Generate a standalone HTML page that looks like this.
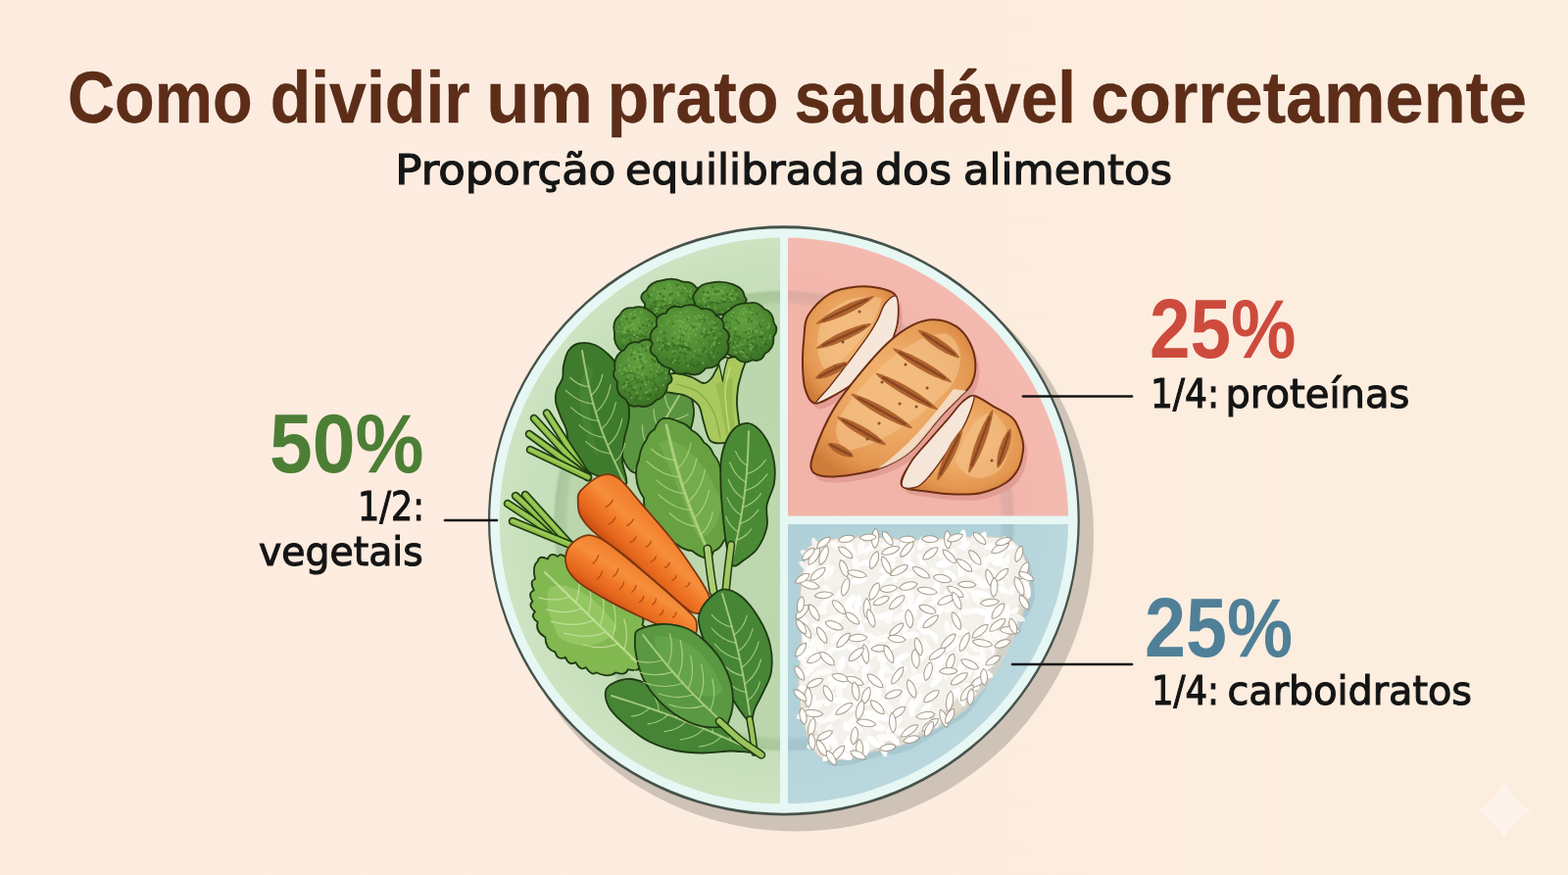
<!DOCTYPE html>
<html lang="pt">
<head>
<meta charset="utf-8">
<title>Como dividir um prato saudável corretamente</title>
<style>
html,body{margin:0;padding:0;background:#FDECDF;}
body{width:1600px;height:893px;overflow:hidden;position:relative;}
svg{position:absolute;left:0;top:0;display:block;}
.t{font-family:"DejaVu Sans","Liberation Sans",sans-serif;}
.b{font-family:"Liberation Sans","DejaVu Sans",sans-serif;font-weight:bold;}
</style>
</head>
<body>
<svg width="1600" height="893" viewBox="0 0 1600 893">
<defs>
  <clipPath id="plateClip"><ellipse cx="799.9" cy="531.45" rx="290.2" ry="288.9"/></clipPath>
  <radialGradient id="gGreen" cx="800" cy="531.5" r="291" gradientUnits="userSpaceOnUse"><stop offset="0" stop-color="#BDD8AF"/><stop offset="0.755" stop-color="#BBD6AD"/><stop offset="0.77" stop-color="#ADCB9F"/><stop offset="0.8" stop-color="#A9C79B"/><stop offset="0.812" stop-color="#C6DEB9"/><stop offset="1" stop-color="#CDE3C2"/></radialGradient>
  <radialGradient id="gPink" cx="800" cy="531.5" r="291" gradientUnits="userSpaceOnUse"><stop offset="0" stop-color="#F2B3A8"/><stop offset="0.755" stop-color="#F2B4A9"/><stop offset="0.77" stop-color="#E2ADA4"/><stop offset="0.8" stop-color="#DDABA2"/><stop offset="0.812" stop-color="#F3B6AC"/><stop offset="1" stop-color="#F4BAB0"/></radialGradient>
  <radialGradient id="gBlue" cx="800" cy="531.5" r="291" gradientUnits="userSpaceOnUse"><stop offset="0" stop-color="#B1D1D9"/><stop offset="0.755" stop-color="#B2D2DA"/><stop offset="0.77" stop-color="#A7C6CE"/><stop offset="0.8" stop-color="#A4C3CB"/><stop offset="0.812" stop-color="#B5D4DB"/><stop offset="1" stop-color="#BAD8DE"/></radialGradient>
</defs>
<linearGradient id="bgG" x1="0" y1="0" x2="1600" y2="0" gradientUnits="userSpaceOnUse"><stop offset="0" stop-color="#FDEBDF"/><stop offset="0.5" stop-color="#FCECDF"/><stop offset="1" stop-color="#FCEEDF"/></linearGradient>
<rect width="1600" height="893" fill="url(#bgG)"/>
<text id="t1" class="b" x="68.94" y="124.7" font-size="74" fill="#5E2D18" stroke="#3A180B" stroke-width="0.3" textLength="188.63" lengthAdjust="spacingAndGlyphs">Como</text>
<text id="t2" class="b" x="275.68" y="124.7" font-size="74" fill="#5E2D18" stroke="#3A180B" stroke-width="0.3" textLength="204.08" lengthAdjust="spacingAndGlyphs">dividir</text>
<text id="t3" class="b" x="496.15" y="124.7" font-size="74" fill="#5E2D18" stroke="#3A180B" stroke-width="0.3" textLength="108.71" lengthAdjust="spacingAndGlyphs">um</text>
<text id="t4" class="b" x="619.62" y="124.7" font-size="74" fill="#5E2D18" stroke="#3A180B" stroke-width="0.3" textLength="175.00" lengthAdjust="spacingAndGlyphs">prato</text>
<text id="t5" class="b" x="810.47" y="124.7" font-size="74" fill="#5E2D18" stroke="#3A180B" stroke-width="0.3" textLength="287.42" lengthAdjust="spacingAndGlyphs">saudável</text>
<text id="t6" class="b" x="1112.97" y="124.7" font-size="74" fill="#5E2D18" stroke="#3A180B" stroke-width="0.3" textLength="445.03" lengthAdjust="spacingAndGlyphs">corretamente</text>
<text id="s1" class="t" x="403.39" y="188.4" font-size="42.2" fill="#161616" stroke="#161616" stroke-width="1.2" textLength="224.91" lengthAdjust="spacingAndGlyphs">Proporção</text>
<text id="s2" class="t" x="637.96" y="188.4" font-size="42.2" fill="#161616" stroke="#161616" stroke-width="1.2" textLength="244.60" lengthAdjust="spacingAndGlyphs">equilibrada</text>
<text id="s3" class="t" x="892.92" y="188.4" font-size="42.2" fill="#161616" stroke="#161616" stroke-width="1.2" textLength="78.19" lengthAdjust="spacingAndGlyphs">dos</text>
<text id="s4" class="t" x="982.98" y="188.4" font-size="42.2" fill="#161616" stroke="#161616" stroke-width="1.2" textLength="213.09" lengthAdjust="spacingAndGlyphs">alimentos</text>
<ellipse cx="812" cy="546" rx="304" ry="302.5" fill="#CEC3B6"/>
<ellipse cx="799.9" cy="531.45" rx="301.9" ry="301.1" fill="#46524B"/>
<ellipse cx="799.9" cy="531.45" rx="299.7" ry="298.3" fill="#E6F7F4"/>
<g clip-path="url(#plateClip)">
<rect x="480" y="220" width="316" height="640" fill="url(#gGreen)"/>
<rect x="804" y="220" width="320" height="306.5" fill="url(#gPink)"/>
<rect x="804" y="535" width="320" height="330" fill="url(#gBlue)"/>
</g>
<defs><radialGradient id="gFlo" cx="0.42" cy="0.32" r="0.7"><stop offset="0" stop-color="#62A03E"/><stop offset="0.65" stop-color="#4A8530"/><stop offset="1" stop-color="#386D22"/></radialGradient></defs>
<g id="veg">
<path d="M636,420C638.8,412.7 642,403.7 648,398C654,392.3 663.7,387 672,386C680.3,385 692,386.7 698,392C704,397.3 707.3,409 708,418C708.7,427 705,438 702,446C699,454 695.7,460.3 690,466C684.3,471.7 675.3,477.3 668,480C660.7,482.7 651.5,484.3 646,482C640.5,479.7 637.5,472.7 635,466C632.5,459.3 630.8,449.7 631,442C631.2,434.3 633.2,427.3 636,420Z" fill="#5A9440" stroke="#1E3A12" stroke-width="1.8" stroke-linejoin="round" />
<path d="M648,480C649.1,478.2 652.3,472.7 654.5,469C656.7,465.3 658.8,461.7 661,458C663.2,454.3 665.3,450.7 667.5,447C669.7,443.3 671.8,439.7 674,436C676.2,432.3 678.3,428.7 680.5,425C682.7,421.3 684.8,417.7 687,414C689.2,410.3 691.3,406.7 693.5,403C695.7,399.3 698.9,393.8 700,392" fill="none" stroke="#B7D68C" stroke-width="2.0" stroke-linecap="round" opacity="0.8"/>
<path d="M656.3,465.9 Q665.9,467.4 675.9,461.3 M661.9,456.5 Q654.9,447.5 655.5,433.8 M667.4,447.1 Q677.2,448.6 687.4,442.4 M673,437.8 Q666.8,429.7 667.3,417.5 M678.5,428.4 Q690.1,430.1 702.2,422.8 M684.1,419 Q677.9,410.9 678.4,398.8 " fill="none" stroke="#B7D68C" stroke-width="1.2" stroke-linecap="round" opacity="0.8"/>
<path d="M590.4,350.5C594.9,349.5 601.9,350.1 607,352C612.1,353.9 616.8,358 621,362C625.2,366 629,370 632,376C635,382 637.3,389.8 639,398C640.7,406.2 642.3,416.7 642,425C641.7,433.3 638.2,440.5 637,448C635.8,455.5 634.7,462.3 635,470C635.3,477.7 641.5,490.8 639,494C636.5,497.2 626.5,491.2 620,489C613.5,486.8 605.7,484.8 600,481C594.3,477.2 589.3,470.7 586,466C582.7,461.3 581.3,457.5 580,453C578.7,448.5 579.3,443.7 578,439C576.7,434.3 573.8,429.8 572,425C570.2,420.2 567.7,414.5 567,410C566.3,405.5 566.8,402 568,398C569.2,394 572.8,390.2 574,386C575.2,381.8 574,377.7 575,373C576,368.3 577.4,361.8 580,358C582.6,354.2 585.9,351.5 590.4,350.5Z" fill="#3F7B2C" stroke="#1E3A12" stroke-width="1.8" stroke-linejoin="round" />
<path d="M600,372 C585,395 590,440 612,470 C600,430 598,400 606,378 Z" fill="#4B8A36" opacity="0.6"/>
<path d="M637,492C635.7,489.3 631.9,481.3 629.4,476C627,470.6 624.5,465.2 622.2,459.8C619.9,454.4 617.7,448.9 615.6,443.4C613.5,437.9 611.6,432.4 609.8,426.8C608,421.2 606.4,415.6 604.8,409.9C603.3,404.3 602,398.5 600.7,392.8C599.4,387 598.3,381.3 597.2,375.5C596.1,369.7 594.5,360.9 594,358" fill="none" stroke="#B7D68C" stroke-width="2.0" stroke-linecap="round" opacity="0.8"/>
<path d="M627.4,471.4 Q635.4,464.7 637.7,452.3 M623.7,463.2 Q609.6,462.1 597.5,450.4 M620.1,454.8 Q631.6,445.3 634.8,427.7 M616.8,446.5 Q603,445.5 591.1,433.9 M613.6,438 Q625.2,428.3 628.4,410.5 M610.7,429.5 Q595.7,428.4 582.8,415.9 M607.9,420.9 Q619.8,411 623.1,392.8 M605.5,412.3 Q590.3,411.1 577.2,398.4 M603.2,403.5 Q612.3,396 614.8,382.1 M601.1,394.7 Q590.7,394 581.7,385.2 " fill="none" stroke="#B7D68C" stroke-width="1.2" stroke-linecap="round" opacity="0.8"/>
<path d="M671,392C670.7,389.7 669.8,386.8 673,385C676.2,383.2 684.5,381 690,381C695.5,381 701.3,383.3 706,385C710.7,386.7 714.7,390.8 718,391C721.3,391.2 723.3,389.2 726,386C728.7,382.8 731.3,375.3 734,372C736.7,368.7 739,367.3 742,366C745,364.7 748.8,364 752,364C755.2,364 760.2,363.3 761,366C761.8,368.7 758.3,375 757,380C755.7,385 753.8,390.7 753,396C752.2,401.3 751.8,406.2 752,412C752.2,417.8 753.2,424.8 754,431C754.8,437.2 759.2,445.5 757,449C754.8,452.5 746.3,451.8 741,452C735.7,452.2 728.8,453.5 725,450C721.2,446.5 720,437 718,431C716,425 716,418.5 713,414C710,409.5 704.7,406.2 700,404C695.3,401.8 689.2,401.8 685,401C680.8,400.2 677.3,400.5 675,399C672.7,397.5 671.3,394.3 671,392Z" fill="#A9C95F" stroke="#1E3A12" stroke-width="1.8" stroke-linejoin="round" />
<path d="M730,392 C735,410 738,430 742,448 L752,448 C748,425 746,405 748,385 Z" fill="#93B84C" opacity="0.7"/>
<path d="M690,392C693.7,393.3 705.7,395.3 712,400C718.3,404.7 724.2,412.2 728,420C731.8,427.8 733.8,442.5 735,447" fill="none" stroke="#7FA23C" stroke-width="1.3" stroke-linecap="round" opacity="0.8"/>
<path d="M745,375C744.2,379.2 740.2,389.2 740,400C739.8,410.8 743.3,433.3 744,440" fill="none" stroke="#C9E08B" stroke-width="1.5" stroke-linecap="round" opacity="0.8"/>
<path d="M731.5,364 L743,365 C740,373 738.5,380 737.5,389 C735.5,380 734,372 731.5,364 Z" fill="#BCD6AE" stroke="#1E3A12" stroke-width="1.3" stroke-linejoin="round"/>
<path d="M703.6,323.1Q695.2,328.2 684.3,326.3Q675,328 668.4,323.3Q656.5,319.4 658.1,310Q649.9,302.6 659.5,296.6Q663.1,287.9 675.6,286.2Q686.7,282.5 696.8,287.6Q706.6,287 709.9,292.8Q717.3,298.6 716.4,306.3Q715.8,316.8 703.6,323.1Z" fill="url(#gFlo)" stroke="#1E3A12" stroke-width="1.8" stroke-linejoin="round"/>
<path d="M689.3,323.5h0.1M683.5,300.9h0.1M668.6,309.1h0.1M694,321.4h0.1M686,308.5h0.1M664.9,315.4h0.1M704.5,311.5h0.1M677,302.7h0.1M702.8,301.8h0.1M695.8,299.4h0.1M688.9,312.6h0.1M663.8,305.3h0.1M685.7,308h0.1M683.8,317.7h0.1M698,291.3h0.1M679.7,312.2h0.1M687.5,317.5h0.1M668.2,312.8h0.1M691.9,309h0.1M688.7,306.9h0.1M670.4,320.2h0.1M705.4,305.2h0.1M702.6,303.7h0.1M676.7,307.9h0.1M673.3,312.7h0.1M691.2,317.4h0.1M701.2,307.5h0.1M663.7,305.8h0.1M697.8,305h0.1M661,300.8h0.1M678.8,321.9h0.1M680.3,315h0.1M674.6,315h0.1M662.1,303h0.1M705.9,312.5h0.1M691.2,290.9h0.1M706.4,296.3h0.1M673.7,300h0.1M676.3,314h0.1M702.3,316.1h0.1M692.7,313.7h0.1M664.7,312.7h0.1M688,315.6h0.1M685.6,300h0.1M695.6,313.6h0.1M696.7,319.8h0.1M663.9,314.9h0.1M703.7,304.7h0.1M696.1,295.1h0.1M678,294.7h0.1" stroke="#2F611B" stroke-width="2.6" stroke-linecap="round" opacity="0.55"/>
<path d="M697.5,306h0.1M695.6,312h0.1M677.5,297.1h0.1M664.6,306.2h0.1M704.3,301.4h0.1M692.5,301.4h0.1M703.3,314.6h0.1M708.4,300.9h0.1M678.7,305.7h0.1M677.2,310.5h0.1M697.2,304.7h0.1M684.7,308h0.1M670.1,304.6h0.1M663.7,305.5h0.1M670.7,314.9h0.1M691.7,298.9h0.1M710.6,309.7h0.1M671.1,298.2h0.1M690.7,311.2h0.1M682.2,290.9h0.1M682.2,291h0.1M706.9,315.8h0.1M688,319h0.1M684.3,304.8h0.1M704.5,297.6h0.1M708,300h0.1M667.6,293.5h0.1M668.1,318.9h0.1M697.4,293.5h0.1M682.4,289.8h0.1M677.8,309h0.1M683.5,315.6h0.1M671.9,305.7h0.1M672.3,311.7h0.1M693.4,293.2h0.1M670.1,317.8h0.1M669.5,315.4h0.1M710.6,305.2h0.1M698.9,316.7h0.1M700.7,312.4h0.1M666.7,295.5h0.1M683.4,309.2h0.1M698.9,294.7h0.1M696.7,291.7h0.1M664.6,300.7h0.1M671.7,302.2h0.1M684,293.6h0.1M709.5,299h0.1M700.8,297h0.1M705.5,295.5h0.1M695.3,295.1h0.1" stroke="#7DB452" stroke-width="2.2" stroke-linecap="round" opacity="0.65"/>
<path d="M676.6,313.1 Q684,309 691.4,313.1" fill="none" stroke="#2F611B" stroke-width="1.2" opacity="0.5"/>
<path d="M665.4,308.9 Q672.8,304.8 680.2,308.9" fill="none" stroke="#2F611B" stroke-width="1.2" opacity="0.5"/>
<path d="M684.4,312.3 Q691.8,308.2 699.2,312.3" fill="none" stroke="#2F611B" stroke-width="1.2" opacity="0.5"/>
<path d="M759.8,302.7Q764.3,307.3 758.2,311Q755.7,318.4 743.7,319.6Q730.7,323.9 718.9,318.4Q709.2,315.2 708.6,308.3Q704.9,301.7 711.3,296Q714.8,289.9 724.8,288.7Q736.9,286 747.8,290.2Q759.1,294.4 759.8,302.7Z" fill="url(#gFlo)" stroke="#1E3A12" stroke-width="1.8" stroke-linejoin="round"/>
<path d="M746.2,317.1h0.1M745,305h0.1M730.7,297.6h0.1M722.8,304.5h0.1M742.3,305.6h0.1M740.1,307.9h0.1M720.6,311h0.1M746.7,302.2h0.1M726,317.2h0.1M726.1,305.8h0.1M733.1,297.2h0.1M751.3,296.3h0.1M717.9,298.3h0.1M735.7,305.7h0.1M725.4,297.8h0.1M750.8,296.5h0.1M725.2,304.4h0.1M728.7,297.5h0.1M718.6,297.6h0.1M738.7,308.3h0.1M754,305.4h0.1M726.3,310.2h0.1M752.4,304.1h0.1M732.6,310.2h0.1M727.2,292.8h0.1M742,300.4h0.1M737.4,302.4h0.1M715,311.6h0.1M722,298.6h0.1M717.9,313.3h0.1" stroke="#2F611B" stroke-width="2.6" stroke-linecap="round" opacity="0.55"/>
<path d="M736.2,304.7h0.1M747.5,296.8h0.1M736.6,318.3h0.1M737,298.4h0.1M728.2,307h0.1M722.8,313.4h0.1M724.9,297.7h0.1M749.8,304.7h0.1M751.4,300.4h0.1M730.1,314.9h0.1M713.2,307.6h0.1M744.8,300.3h0.1M753.3,311.2h0.1M718.9,314.3h0.1M717.9,305h0.1M739.3,306h0.1M719.7,300.8h0.1M719.7,296.7h0.1M726,317.2h0.1M727.2,297.5h0.1M746.9,304.3h0.1M742.6,307.2h0.1M732.8,300.3h0.1M722,301.1h0.1M732.5,294.3h0.1M745.8,300h0.1M722.1,294h0.1M718.9,299.9h0.1M726.1,304.4h0.1M724.9,306.2h0.1M736.2,296.7h0.1M739.4,305h0.1M727.5,299.8h0.1M739.1,293.1h0.1M719.1,300.7h0.1M718.4,306.7h0.1M720.2,308.9h0.1M745,303.9h0.1M746.8,306.2h0.1M742.9,315.4h0.1M718.9,308h0.1" stroke="#7DB452" stroke-width="2.2" stroke-linecap="round" opacity="0.65"/>
<path d="M723.1,310.4 Q729.6,307.1 736.1,310.4" fill="none" stroke="#2F611B" stroke-width="1.2" opacity="0.5"/>
<path d="M719.9,309.5 Q726.4,306.2 732.9,309.5" fill="none" stroke="#2F611B" stroke-width="1.2" opacity="0.5"/>
<path d="M735.8,309 Q742.3,305.7 748.8,309" fill="none" stroke="#2F611B" stroke-width="1.2" opacity="0.5"/>
<path d="M651.8,363.1Q641.9,367.7 635.1,359.4Q625.7,352.2 627,339.9Q624,328.4 632.6,321.2Q636.6,312.9 645.5,314.4Q655,310.9 663,317.3Q675.3,324.6 673.1,339.5Q676.7,348.5 669.6,353.8Q663.4,364.2 651.8,363.1Z" fill="url(#gFlo)" stroke="#1E3A12" stroke-width="1.8" stroke-linejoin="round"/>
<path d="M657.9,336.7h0.1M659.3,338.7h0.1M652.7,360.2h0.1M665.8,330.3h0.1M662.1,327.3h0.1M657.4,357.7h0.1M649.3,360.3h0.1M662.2,354.4h0.1M652.2,343.3h0.1M669.9,343.1h0.1M660.3,332.7h0.1M642,350.2h0.1M657.6,353.1h0.1M644.6,350.4h0.1M668.2,337.8h0.1M642.4,329.2h0.1M645.5,325.2h0.1M670,344.4h0.1M657.5,345.7h0.1M656.3,331.8h0.1M662,347.5h0.1M652.4,335.1h0.1M652.6,335.6h0.1M647.6,324.1h0.1M651.7,350.1h0.1M668.2,342.4h0.1M652,354.8h0.1M641.5,338h0.1M660.6,355.8h0.1M653.2,347.1h0.1M643.1,346.1h0.1M654.7,342.1h0.1M643.6,328.6h0.1M649.4,342h0.1M661.4,347.7h0.1M656.8,352.4h0.1M639.1,354.5h0.1M640.8,337.9h0.1M651.2,351h0.1M645,338.6h0.1M635.9,353.1h0.1M634.5,343.3h0.1M643.3,347.8h0.1M657.5,343.1h0.1M639.6,325.6h0.1M664.3,330.7h0.1M643.6,350.6h0.1M632.8,331.9h0.1" stroke="#2F611B" stroke-width="2.6" stroke-linecap="round" opacity="0.55"/>
<path d="M643.3,328.3h0.1M634.3,326.2h0.1M667.2,331.4h0.1M634.6,331.4h0.1M654.3,317.7h0.1M637.2,337.3h0.1M640.6,332.9h0.1M637.3,334.9h0.1M644.4,337.6h0.1M668.6,329.6h0.1M645.2,342.8h0.1M665.1,342.5h0.1M644.8,330.9h0.1M663,343.3h0.1M662.7,331.7h0.1M635.4,338.9h0.1M648,321.3h0.1M654.4,319.3h0.1M653,337.8h0.1M640.5,354.5h0.1M637.6,339.7h0.1M646.3,331.3h0.1M647.4,334.6h0.1M647,336.1h0.1M636.5,322.7h0.1M639.9,355.9h0.1M663.1,339.6h0.1M658.8,356.4h0.1M638.6,334.6h0.1M644.3,320h0.1M655.2,351.8h0.1M651.3,325.2h0.1M658.3,337.2h0.1M661,326h0.1M650.7,335.6h0.1M643.2,320.6h0.1M630.4,338.2h0.1M636.5,347.9h0.1M640.3,357.6h0.1M647.6,318.1h0.1M650.8,344.1h0.1M631.7,333.5h0.1M647.5,341.9h0.1M670.1,345.5h0.1M661.3,348.8h0.1M643.1,320.6h0.1M652.1,328.7h0.1M651.6,357h0.1M656.4,351.3h0.1" stroke="#7DB452" stroke-width="2.2" stroke-linecap="round" opacity="0.65"/>
<path d="M635.6,343.7 Q641.4,338.7 647.3,343.7" fill="none" stroke="#2F611B" stroke-width="1.2" opacity="0.5"/>
<path d="M637.3,345.2 Q643.2,340.2 649,345.2" fill="none" stroke="#2F611B" stroke-width="1.2" opacity="0.5"/>
<path d="M650.9,345.7 Q656.8,340.7 662.7,345.7" fill="none" stroke="#2F611B" stroke-width="1.2" opacity="0.5"/>
<path d="M768,367.3Q757.7,373.4 749.9,363.8Q739.4,363.7 739.7,352.5Q730.3,345.9 736.5,336.1Q733.3,323.4 743.6,317.1Q751.9,308.6 763.5,309.5Q773.2,306.7 779.4,315Q789.2,318.6 789.7,329.6Q795.2,336.4 789.3,343.8Q790.5,355.6 780.5,361Q777,370.1 768,367.3Z" fill="url(#gFlo)" stroke="#1E3A12" stroke-width="1.8" stroke-linejoin="round"/>
<path d="M758.8,357.1h0.1M742.4,352.2h0.1M752.2,343.5h0.1M744.9,350h0.1M770.6,354.2h0.1M767.8,320.9h0.1M747.3,324.2h0.1M776.6,333.5h0.1M771.3,351.5h0.1M753.2,360.9h0.1M763.8,325.3h0.1M760.8,339.2h0.1M752,343.3h0.1M769,356.3h0.1M770.5,346.2h0.1M767.7,316.2h0.1M747.9,321.6h0.1M775.9,344.3h0.1M749.3,345.6h0.1M771.3,351.5h0.1M772,357.6h0.1M749.8,342.6h0.1M758.6,353.1h0.1M762.8,354.2h0.1M764.7,314.2h0.1M763.7,327.4h0.1M750,354.8h0.1M764.4,342.2h0.1M765.8,350.8h0.1M744.4,335.3h0.1M772.7,320.3h0.1M751.4,326.8h0.1M754.8,343.8h0.1M748.3,351.1h0.1M781.3,351.8h0.1M753.5,329.7h0.1M772.5,353.5h0.1M779.8,349.8h0.1M764.6,337.6h0.1M777,355.3h0.1M766.5,353.4h0.1M763.6,351.2h0.1M768.3,351.1h0.1M745.4,329h0.1M767,328h0.1M750.1,339.3h0.1M748.1,349.7h0.1M778.4,343.1h0.1M770.9,334.5h0.1M767,361.3h0.1M762.2,353.6h0.1M774.3,330.8h0.1M758.4,360h0.1M741.1,328.8h0.1M756.6,352.9h0.1M755.1,348.5h0.1M766.1,364.4h0.1M768.3,338.9h0.1M767.7,339.4h0.1M752.2,349.8h0.1M750.4,338.7h0.1M744.7,345.8h0.1M761.9,362.8h0.1" stroke="#2F611B" stroke-width="2.6" stroke-linecap="round" opacity="0.55"/>
<path d="M749.4,334.9h0.1M776.9,339.3h0.1M756.9,327h0.1M765.9,355.5h0.1M742.1,337.2h0.1M746.4,328.7h0.1M750.5,349.2h0.1M740.1,344.5h0.1M783.3,334.9h0.1M766.5,352.3h0.1M786,342.8h0.1M769.2,346.9h0.1M784.8,333.4h0.1M747.2,322.1h0.1M751.6,360.1h0.1M747.4,323.7h0.1M755.1,358.8h0.1M772.8,330.4h0.1M778.5,326.7h0.1M748.3,319.1h0.1M784.5,330.4h0.1M765,351.6h0.1M765.1,343.3h0.1M779.9,345.6h0.1M757.5,320.5h0.1M772.5,347.4h0.1M777.7,340.3h0.1M764.5,351.3h0.1M757.1,359.2h0.1M762,364.7h0.1M759.4,363.2h0.1M749.8,354.8h0.1M761.2,347.5h0.1M757.3,317.3h0.1M770,334.3h0.1M749.9,359.4h0.1M783.6,334h0.1M769.6,328.9h0.1M757.6,352.1h0.1M766.5,357.1h0.1M765.7,318.6h0.1M761.7,318.1h0.1M767.9,316h0.1M766.6,338.4h0.1M763.6,340.5h0.1M754.4,320h0.1M767.3,320h0.1M759.9,346.9h0.1M761.1,317.6h0.1M740.9,334.4h0.1M755.6,352.6h0.1M745.3,345.9h0.1M770.9,337.6h0.1M755.6,349.5h0.1M785.6,345.4h0.1M762.2,326.5h0.1M778.9,349.5h0.1M753,325.1h0.1M767.6,354.4h0.1M740.9,339.9h0.1M772.4,338.6h0.1M758.9,319.9h0.1M765.3,336h0.1M764.1,335.3h0.1M752.5,353.2h0.1M748.8,354.3h0.1M750.8,335.2h0.1M758.7,360.2h0.1M759.4,314.6h0.1" stroke="#7DB452" stroke-width="2.2" stroke-linecap="round" opacity="0.65"/>
<path d="M760.8,348.8 Q767.6,343 774.5,348.8" fill="none" stroke="#2F611B" stroke-width="1.2" opacity="0.5"/>
<path d="M765.7,345.9 Q772.6,340.1 779.5,345.9" fill="none" stroke="#2F611B" stroke-width="1.2" opacity="0.5"/>
<path d="M750.2,348.3 Q757,342.5 763.9,348.3" fill="none" stroke="#2F611B" stroke-width="1.2" opacity="0.5"/>
<path d="M637.1,356.9Q642.1,347.4 651.7,349.5Q660.7,342.6 668.1,351.3Q676.7,352.6 679.3,362.3Q686.2,370.2 682.6,381.2Q689.3,388.4 681.3,392.5Q680.3,405.2 669.6,408.4Q661.8,417.5 651.4,414.2Q642.3,417.2 638.3,407.1Q627.9,402.8 630,389.4Q623.7,383.9 627.4,377Q625.5,362.8 637.1,356.9Z" fill="url(#gFlo)" stroke="#1E3A12" stroke-width="1.8" stroke-linejoin="round"/>
<path d="M675.5,380.9h0.1M667.8,369.3h0.1M664.3,402.8h0.1M637.6,399.5h0.1M667.6,368.2h0.1M657.5,401.1h0.1M649,408h0.1M657.1,393.6h0.1M667.1,386.3h0.1M650.1,390.4h0.1M661.1,403.8h0.1M653.8,395.7h0.1M650.7,400h0.1M666.7,395.4h0.1M656.1,353.6h0.1M648,398.6h0.1M647.8,385.8h0.1M670.9,395.3h0.1M635.7,394.1h0.1M639.7,387.4h0.1M673.5,383.4h0.1M641.6,394.6h0.1M655.7,376.2h0.1M644.2,393.9h0.1M665.1,354.8h0.1M674.9,372.8h0.1M665.6,367.2h0.1M649.1,406.9h0.1M643.1,404.3h0.1M671.5,381.7h0.1M660.2,387.6h0.1M651,390h0.1M669.2,403.1h0.1M655.7,371.8h0.1M643.4,402.9h0.1M668.8,392.9h0.1M647.8,366.2h0.1M650,377.6h0.1M664,379.1h0.1M650.7,403.7h0.1M654,368.7h0.1M641.7,391.2h0.1M636.6,379h0.1M657.4,354.9h0.1M659.2,357.8h0.1M649.5,405.5h0.1M655.1,390h0.1M651.7,359.6h0.1M653.8,397.4h0.1M655.2,352.5h0.1M652.6,365.2h0.1M660.1,390.6h0.1M676.8,377.5h0.1M671.4,398h0.1M645.3,397.4h0.1M638.9,373.9h0.1M656.4,374.6h0.1M659.4,403.4h0.1M642,400.9h0.1M651.2,382.8h0.1M635.9,393.1h0.1M671.6,399h0.1M636.8,390.7h0.1M672.1,369.7h0.1M676.3,369.1h0.1M662.2,405.2h0.1M659.4,384.8h0.1M670.2,363.6h0.1M676.7,367.3h0.1M644.7,356h0.1M652.9,364.1h0.1M663,402.4h0.1M655.2,363.6h0.1M644.4,362.1h0.1" stroke="#2F611B" stroke-width="2.6" stroke-linecap="round" opacity="0.55"/>
<path d="M644.4,405.8h0.1M675.1,368.3h0.1M654,362.1h0.1M638,375h0.1M670.4,378.9h0.1M634.5,381.2h0.1M663.6,373.1h0.1M660.5,400.2h0.1M679.9,380.7h0.1M672.9,372.9h0.1M655,372.5h0.1M661.5,389.4h0.1M649,378.7h0.1M650.3,401.1h0.1M650.8,366.4h0.1M653.1,406.5h0.1M650.4,366.4h0.1M642.3,373h0.1M637.1,376.7h0.1M657,363.8h0.1M652.7,374h0.1M632.3,377.9h0.1M646.7,359.9h0.1M639.4,390.2h0.1M675.8,377.3h0.1M636.6,378.2h0.1M650.5,363.7h0.1M646.9,375.2h0.1M668.3,366.1h0.1M659,389.5h0.1M656,364.8h0.1M652.9,356.6h0.1M663.1,398.3h0.1M661.4,407h0.1M636.4,394.3h0.1M644.3,356.7h0.1M643.8,356.9h0.1M652.7,375.2h0.1M664.7,377.6h0.1M655.1,382.2h0.1M656,362.6h0.1M656.1,381.6h0.1M669.5,372.3h0.1M657.9,369.7h0.1M641.3,374.2h0.1M651.7,380.9h0.1M644.1,356.8h0.1M666,356.7h0.1M654.7,361.7h0.1M669.2,362.9h0.1M659.8,368.6h0.1M658.1,393h0.1M648.2,395.3h0.1M679.4,385.8h0.1M660.9,355.3h0.1M671.4,367.3h0.1M657.1,355.5h0.1M638.9,393.6h0.1M639,378.5h0.1M661,354.9h0.1M633,372.9h0.1M656.1,367.4h0.1M645.6,387h0.1M658.3,400.9h0.1M643.9,378.6h0.1M640.8,366.7h0.1M635.1,395.5h0.1M651.5,360.9h0.1M650.1,400.2h0.1M659.4,392h0.1M640.8,384.3h0.1M650.4,383.5h0.1M669.6,397.3h0.1M648.1,359.6h0.1M676.7,393.2h0.1M657.2,390.1h0.1M672.2,375.3h0.1" stroke="#7DB452" stroke-width="2.2" stroke-linecap="round" opacity="0.65"/>
<path d="M635.8,383.5 Q642.8,377 649.8,383.5" fill="none" stroke="#2F611B" stroke-width="1.2" opacity="0.5"/>
<path d="M642.7,390.6 Q649.7,384.1 656.7,390.6" fill="none" stroke="#2F611B" stroke-width="1.2" opacity="0.5"/>
<path d="M654.7,390.9 Q661.7,384.4 668.7,390.9" fill="none" stroke="#2F611B" stroke-width="1.2" opacity="0.5"/>
<path d="M716.3,315.4Q727,313.6 730.5,322.2Q739.9,325.6 738.4,334.9Q747.3,340.6 742.3,348.5Q746.5,360.5 734.9,367.7Q731.7,376.3 720.3,375.6Q712.4,386.2 700.4,380.6Q690.7,384.2 685.1,376.4Q672.8,373.9 669,363.7Q660.1,359.3 666,351Q659.3,340.6 670.3,332.9Q667.2,321.2 679.5,319.6Q683.7,310.4 694.6,313.6Q706,307.9 716.3,315.4Z" fill="url(#gFlo)" stroke="#1E3A12" stroke-width="1.8" stroke-linejoin="round"/>
<path d="M731.1,352.5h0.1M680.7,352.6h0.1M696.1,353h0.1M677.9,345.8h0.1M728.4,342.5h0.1M695.7,341.7h0.1M727.3,358.9h0.1M697.4,348.7h0.1M731.2,330.4h0.1M701.2,338.1h0.1M720.2,338h0.1M719.1,343.2h0.1M707.2,366.1h0.1M728.2,340h0.1M723.9,365.2h0.1M732,347.6h0.1M724.3,348.3h0.1M702.7,357.3h0.1M698.2,334.6h0.1M700.4,370.8h0.1M676.8,350.3h0.1M711,374h0.1M714.8,326.2h0.1M730.1,331.2h0.1M686.5,345.2h0.1M685.6,350.4h0.1M687.2,352h0.1M692.5,370.8h0.1M705.3,369h0.1M707.4,333.7h0.1M716.2,340.2h0.1M724.3,366.4h0.1M704.4,332.1h0.1M682.2,354h0.1M673,348.9h0.1M723,341.4h0.1M712.4,372.5h0.1M728.8,355.1h0.1M704.6,372.2h0.1M718,357h0.1M694.7,335.2h0.1M690.5,370.1h0.1M678.3,352.3h0.1M675,356.9h0.1M734.1,349.5h0.1M720.8,359.2h0.1M722.9,362.8h0.1M707.1,371.9h0.1M699.4,355.3h0.1M728.1,348.1h0.1M711.7,369.2h0.1M683.7,368.1h0.1M699,365.2h0.1M724.3,353.6h0.1M721.1,341.3h0.1M697.9,361h0.1M685.4,367.3h0.1M717.5,358.4h0.1M701.3,356.1h0.1M718.9,356.4h0.1M680.3,354.9h0.1M733.1,350h0.1M711,362.7h0.1M693.2,365.6h0.1M726.3,336.1h0.1M686.6,330.6h0.1M726.7,367.8h0.1M733.5,351.4h0.1M714.2,363.7h0.1M716.9,350.1h0.1M676.3,340h0.1M687.9,360.8h0.1M732.2,360.3h0.1M699.7,361.5h0.1M735.5,338.2h0.1M718.4,326h0.1M678.1,354.6h0.1M725.2,336.7h0.1M680.2,356.4h0.1M690.9,367h0.1M693.8,347.3h0.1M721.4,359.9h0.1M704.5,357.2h0.1M684.1,370.2h0.1M680.3,366.7h0.1M692,370.8h0.1M681.3,357.5h0.1M718,327.6h0.1M718.9,355.5h0.1M700.7,326.1h0.1M686.3,366.9h0.1M703.8,350.4h0.1M693,364.6h0.1M708.2,373.6h0.1M678.2,339.6h0.1M734.8,345.2h0.1M695.8,354.8h0.1M692.3,356.2h0.1M693.5,345.4h0.1M703,355.4h0.1M679.3,348.2h0.1M712.5,348.3h0.1M708,334h0.1M718.4,344.5h0.1M694.4,359.9h0.1M708.5,364.5h0.1M720.1,341.9h0.1M697,342.2h0.1M714,371.6h0.1" stroke="#2F611B" stroke-width="2.6" stroke-linecap="round" opacity="0.55"/>
<path d="M676.5,352.3h0.1M684.7,354h0.1M675.4,339.4h0.1M717.6,370.7h0.1M673.8,347.3h0.1M711.6,348.9h0.1M713.4,333.3h0.1M692.8,345.4h0.1M675.3,332.5h0.1M725.9,359.5h0.1M719.3,336.8h0.1M699.4,335.4h0.1M705.1,340.3h0.1M693.7,355.9h0.1M673.6,347.5h0.1M702.1,340.9h0.1M707.6,337.7h0.1M700.3,318h0.1M718.4,335.5h0.1M670.7,347h0.1M721.1,324.3h0.1M723.5,339.5h0.1M688.2,339.9h0.1M709.2,358h0.1M694.5,319.2h0.1M708,364.3h0.1M728.3,350.3h0.1M671.2,344.8h0.1M692.7,337.6h0.1M698.1,340.4h0.1M713.7,357.4h0.1M694.5,332.9h0.1M673.1,356.2h0.1M673.8,338.7h0.1M699.6,326.1h0.1M728.4,363.8h0.1M730,344.6h0.1M710.4,330.3h0.1M709.5,323h0.1M683.4,350.8h0.1M717.4,350.4h0.1M727.7,338.3h0.1M718.1,338.5h0.1M726.5,328.7h0.1M696.2,329.6h0.1M697,339.1h0.1M695.9,335.3h0.1M693.1,327.3h0.1M700.2,352h0.1M711,335.9h0.1M729.4,329.5h0.1M723.1,329.8h0.1M680.1,330.5h0.1M681.9,327.4h0.1M728.9,351.2h0.1M694.9,327.5h0.1M720.4,359.2h0.1M730.8,334.7h0.1M701.9,338.2h0.1M699.4,356.3h0.1M734.8,340h0.1M690.7,351.6h0.1M700.5,332.2h0.1M711.3,324.8h0.1M702.1,373.1h0.1M687.3,358.7h0.1M703.1,344h0.1M709.5,341.6h0.1M703.1,332h0.1M712.5,331.1h0.1M704.2,335.3h0.1M687.5,332.7h0.1M729.6,345.1h0.1M717.2,321.8h0.1M688.5,367.8h0.1M699.4,350.2h0.1M704.4,349.5h0.1M728.5,352h0.1M725.5,353.8h0.1M693.7,322.8h0.1M713,321.9h0.1M707.8,330.5h0.1M702.9,323.8h0.1M689.2,322.7h0.1M713.3,322.1h0.1M692.4,343.9h0.1M714.7,330.6h0.1M690.6,328h0.1M691.7,350.4h0.1M686.8,370h0.1M681.6,351.2h0.1M729,348.6h0.1M702.3,346.3h0.1M728,334.8h0.1M716.3,343.8h0.1M712.5,332.4h0.1M714.7,324.4h0.1M697.8,333.8h0.1M694.3,333.6h0.1M719.1,336.2h0.1M733.8,350.2h0.1M697.5,328.7h0.1M716.7,327.4h0.1" stroke="#7DB452" stroke-width="2.2" stroke-linecap="round" opacity="0.65"/>
<path d="M686.4,357.1 Q696.1,350.5 705.7,357.1" fill="none" stroke="#2F611B" stroke-width="1.2" opacity="0.5"/>
<path d="M682,355.1 Q691.6,348.5 701.3,355.1" fill="none" stroke="#2F611B" stroke-width="1.2" opacity="0.5"/>
<path d="M683.8,356 Q693.4,349.4 703.1,356" fill="none" stroke="#2F611B" stroke-width="1.2" opacity="0.5"/>
<path d="M676.6,427Q684.6,425.9 694,431Q700,432 706.2,439.4Q712.9,442.4 718.5,451.7Q724.8,455 728.3,464Q734.3,470.4 735.7,481.3Q742.5,488.9 743.1,498.5Q748.7,508.8 748,518.2Q749.6,529.7 745.6,537.9Q744.1,547.6 738.2,552.7Q734.8,560.4 728.3,562.5Q726.2,569.3 722,570Q714.6,569.1 706,562Q697.8,561.7 690,555Q680.9,551.9 674.2,542.8Q665.8,537.7 661.9,528Q656.5,519.3 657,508.3Q650.1,498.2 649.5,488.6Q647.8,477.5 652,469Q653.4,456.9 659.4,449.2Q661.9,441 668,438.1Q671,429.6 676.6,427Z" fill="#68A142" stroke="#1E3A12" stroke-width="1.8" stroke-linejoin="round"/>
<path d="M672,452 C690,440 720,470 735,510 C738,530 725,550 712,548 C700,520 685,480 672,452 Z" fill="#7DB452" opacity="0.6"/>
<path d="M724,566C722.8,563.3 719.3,555.3 717,550C714.8,544.6 712.5,539.3 710.3,533.9C708.1,528.5 706,523.1 704,517.7C702,512.2 700,506.8 698.2,501.3C696.4,495.8 694.6,490.2 693,484.7C691.3,479.1 689.8,473.5 688.3,467.9C686.8,462.3 685.4,456.6 684,451C682.7,445.3 680.7,436.8 680,434" fill="none" stroke="#B5D68A" stroke-width="3" stroke-linecap="round" opacity="0.8"/>
<path d="M715.1,545.5 Q724.7,537.3 727.3,522.4 M711.7,537.3 Q696.5,536.3 683.2,523.7 M708.3,529 Q720.3,518.7 723.5,500.1 M705.1,520.7 Q687.5,519.6 672.2,505 M702,512.3 Q715.9,500.5 719.5,478.9 M699.1,503.9 Q683.4,502.9 669.7,489.9 M696.3,495.4 Q707.8,485.6 710.9,467.7 M693.7,486.9 Q675.7,485.8 660.1,471 M691.2,478.4 Q702.1,469 705,452 M688.8,469.8 Q675.9,469 664.7,458.3 " fill="none" stroke="#B5D68A" stroke-width="1.2" stroke-linecap="round" opacity="0.8"/>
<path d="M722,560C722.5,564.2 724,577.7 725,585C726,592.3 727.5,600.8 728,604" fill="none" stroke="#1E3A12" stroke-width="9" stroke-linecap="round"/>
<path d="M722,560C722.5,564.2 724,577.7 725,585C726,592.3 727.5,600.8 728,604" fill="none" stroke="#ACCF72" stroke-width="6" stroke-linecap="round"/>
<path d="M753,434.5C757.3,432 762.8,430.8 767.7,433.2C772.6,435.6 778.8,442.8 782.5,449.2C786.2,455.6 788.7,464 789.9,471.4C791.1,478.8 791.1,486.2 789.9,493.6C788.7,501 783.7,508.3 782.5,515.7C781.3,523.1 784.1,530.5 782.5,537.9C780.9,545.3 776.8,554.2 772.7,560C768.6,565.8 762,569.5 757.9,572.4C753.8,575.3 750.6,579.4 748,577.3C745.4,575.2 743.7,567.9 742,560C740.3,552.1 739,540 738,530C737,520 736.1,510 735.7,500C735.3,490 734.7,478.7 735.7,470C736.8,461.3 739.1,453.9 742,448C744.9,442.1 748.7,437 753,434.5Z" fill="#4A8A35" stroke="#1E3A12" stroke-width="1.8" stroke-linejoin="round" />
<path d="M747,572C747.6,569.3 749.5,561.1 750.6,555.7C751.8,550.3 753,544.8 754.1,539.4C755.1,533.9 756.1,528.4 757,523C757.9,517.5 758.8,512 759.5,506.5C760.2,501 760.8,495.5 761.3,490C761.8,484.4 762.2,478.9 762.6,473.4C762.9,467.8 763.2,462.3 763.4,456.7C763.6,451.1 763.9,442.8 764,440" fill="none" stroke="#B7D68C" stroke-width="2.0" stroke-linecap="round" opacity="0.8"/>
<path d="M751.6,551.1 Q760.3,548.8 766.6,540 M753.4,542.8 Q744.9,538 740.8,527.2 M755,534.4 Q766,531.5 773.9,520.4 M756.5,526 Q746.8,520.5 742,507.9 M757.9,517.6 Q768.8,514.7 776.5,503.8 M759.1,509.1 Q748.4,503.1 743.1,489.3 M760.2,500.7 Q773.4,497.2 782.9,483.8 M761.1,492.2 Q750,486 744.6,471.7 M761.8,483.7 Q773.2,480.8 781.3,469.3 M762.4,475.2 Q754.4,470.7 750.5,460.4 " fill="none" stroke="#B7D68C" stroke-width="1.2" stroke-linecap="round" opacity="0.8"/>
<path d="M746,556C745.5,560 743.9,572.3 743,580C742.1,587.7 741.1,598.3 740.7,602" fill="none" stroke="#1E3A12" stroke-width="8.5" stroke-linecap="round"/>
<path d="M746,556C745.5,560 743.9,572.3 743,580C742.1,587.7 741.1,598.3 740.7,602" fill="none" stroke="#A2C862" stroke-width="5.5" stroke-linecap="round"/>
<path d="M600,487 L558,421.6" stroke="#1E3A12" stroke-width="8.5" stroke-linecap="round" fill="none"/>
<path d="M600,487 L558,421.6" stroke="#8DBF46" stroke-width="5.2" stroke-linecap="round" fill="none"/>
<path d="M599,485.5 L557.5,420.6" stroke="#A6D06A" stroke-width="1.5" stroke-linecap="round" fill="none" opacity="0.8"/>
<path d="M600,487 L545,427" stroke="#1E3A12" stroke-width="8.5" stroke-linecap="round" fill="none"/>
<path d="M600,487 L545,427" stroke="#8DBF46" stroke-width="5.2" stroke-linecap="round" fill="none"/>
<path d="M599,485.5 L544.5,426" stroke="#A6D06A" stroke-width="1.5" stroke-linecap="round" fill="none" opacity="0.8"/>
<path d="M600,487 L540,443" stroke="#1E3A12" stroke-width="8.5" stroke-linecap="round" fill="none"/>
<path d="M600,487 L540,443" stroke="#8DBF46" stroke-width="5.2" stroke-linecap="round" fill="none"/>
<path d="M599,485.5 L539.5,442" stroke="#A6D06A" stroke-width="1.5" stroke-linecap="round" fill="none" opacity="0.8"/>
<path d="M600,487 L541,459" stroke="#1E3A12" stroke-width="8.5" stroke-linecap="round" fill="none"/>
<path d="M600,487 L541,459" stroke="#8DBF46" stroke-width="5.2" stroke-linecap="round" fill="none"/>
<path d="M599,485.5 L540.5,458" stroke="#A6D06A" stroke-width="1.5" stroke-linecap="round" fill="none" opacity="0.8"/>
<path d="M582,556 L518,514" stroke="#1E3A12" stroke-width="8.5" stroke-linecap="round" fill="none"/>
<path d="M582,556 L518,514" stroke="#8DBF46" stroke-width="5.2" stroke-linecap="round" fill="none"/>
<path d="M581,554.5 L517.5,513" stroke="#A6D06A" stroke-width="1.5" stroke-linecap="round" fill="none" opacity="0.8"/>
<path d="M582,556 L526,506" stroke="#1E3A12" stroke-width="8.5" stroke-linecap="round" fill="none"/>
<path d="M582,556 L526,506" stroke="#8DBF46" stroke-width="5.2" stroke-linecap="round" fill="none"/>
<path d="M581,554.5 L525.5,505" stroke="#A6D06A" stroke-width="1.5" stroke-linecap="round" fill="none" opacity="0.8"/>
<path d="M582,556 L536,505" stroke="#1E3A12" stroke-width="8.5" stroke-linecap="round" fill="none"/>
<path d="M582,556 L536,505" stroke="#8DBF46" stroke-width="5.2" stroke-linecap="round" fill="none"/>
<path d="M581,554.5 L535.5,504" stroke="#A6D06A" stroke-width="1.5" stroke-linecap="round" fill="none" opacity="0.8"/>
<path d="M582,556 L523,532" stroke="#1E3A12" stroke-width="8.5" stroke-linecap="round" fill="none"/>
<path d="M582,556 L523,532" stroke="#8DBF46" stroke-width="5.2" stroke-linecap="round" fill="none"/>
<path d="M581,554.5 L522.5,531" stroke="#A6D06A" stroke-width="1.5" stroke-linecap="round" fill="none" opacity="0.8"/>
<path d="M548.6,573Q550.1,566 558.9,570.5Q561.3,563 569.2,567.9Q572.6,563.1 579.6,571.5Q584,566.5 590,575Q595.4,572.4 600,583.3Q606.9,581 610,591.7Q618.7,590.1 620,600Q630.2,599.8 630,608.3Q641.2,609.7 640,616.7Q651.7,619.5 650,625Q659.5,631.2 655.5,637.5Q664.9,645 661,650Q665.3,659.9 657,665Q660.7,676.2 653,680Q651.9,686.1 640.8,683.1Q638.9,690 628.5,686.3Q621.2,692.4 607.9,686.3Q604.2,690.4 597.6,681.1Q592.5,685.4 587.3,676Q580.6,680.1 577,670.9Q568.6,674.2 566.7,665.7Q556.4,662.5 556.4,650.3Q545.9,644.4 548.6,634.8Q540.5,629.3 546,624.4Q538.2,617.5 543.5,614Q538,605.2 544.8,602.5Q539.9,592.7 546,591Q542.8,576.9 548.6,573Z" fill="#82B850" stroke="#1E3A12" stroke-width="1.8" stroke-linejoin="round"/>
<path d="M560,600 C580,590 610,610 630,640 C620,660 590,665 570,650 C560,630 556,615 560,600 Z" fill="#9ACB68" opacity="0.75"/>
<path d="M652,678C650,676 644,670.2 640,666.2C636,662.3 632,658.4 628,654.5C624,650.6 620,646.7 616,642.8C612,638.8 608,634.9 604,631C600,627.1 596,623.2 592,619.2C588,615.3 584,611.4 580,607.5C576,603.6 572,599.7 568,595.8C564,591.8 558,586 556,584" fill="none" stroke="#C8E3A0" stroke-width="2.2" stroke-linecap="round" opacity="0.8"/>
<path d="M636.6,663 Q642.3,649.1 636.9,632 M630.5,656.9 Q614.8,663.8 595,658 M624.4,650.9 Q631.5,633.5 624.7,612 M618.2,644.9 Q599.4,653.1 575.8,646.2 M612.1,638.9 Q619.7,620.3 612.4,597.3 M605.9,632.9 Q586.6,641.3 562.4,634.2 M599.8,626.9 Q606,611.8 600.1,593.1 M593.6,620.8 Q577.5,627.9 557.3,621.9 M587.5,614.8 Q594.5,597.9 587.8,576.9 M581.3,608.8 Q567.2,615 549.4,609.8 " fill="none" stroke="#C8E3A0" stroke-width="1.2" stroke-linecap="round" opacity="0.8"/>
<defs><linearGradient id="cg11" gradientUnits="userSpaceOnUse" x1="666" y1="534.1" x2="635.2" y2="565.5"><stop offset="0" stop-color="#F2812F"/><stop offset="0.3" stop-color="#F68F3C"/><stop offset="0.55" stop-color="#F07A28"/><stop offset="0.85" stop-color="#E5661D"/><stop offset="1" stop-color="#D25416"/></linearGradient></defs>
<path d="M592.4,500.9C596.3,496.6 606.6,487.6 613,485.5C619.4,483.4 624.1,483.3 631,488C637.9,492.7 645.2,503.5 654.2,513.8C663.2,524.1 675.5,537.8 685,549.8C694.5,561.8 704.4,576 710.9,585.9C717.4,595.8 722.1,603 723.8,609C725.5,615 724.2,619.4 721.2,622C718.2,624.6 713.4,628.4 705.7,624.5C698,620.6 685.9,608.2 674.8,598.8C663.6,589.4 649.9,576.9 638.8,567.9C627.6,558.9 615.6,551.6 607.9,544.7C600.2,537.8 595.4,532.3 592.4,526.7C589.4,521.1 589.8,515.5 589.8,511.2C589.8,506.9 588.5,505.2 592.4,500.9Z" fill="url(#cg11)" stroke="#7E3510" stroke-width="1.8" stroke-linejoin="round"/>
<path d="M618,517.7 Q622.9,515.3 625.2,510.4 M621.1,535.1 Q625.8,532.9 627.9,528.1 M639.8,536.5 Q644.3,534.5 646.3,530 M642.9,553.9 Q647.2,552.1 649,547.7 M658.8,558.3 Q662.9,556.7 664.5,552.5 M664.1,573.4 Q668.1,571.9 669.4,568 M678.4,579.3 Q682.2,578.1 683.3,574.3 M685.8,592.3 Q689.4,591.3 690.3,587.7 M699.5,598.9 Q702.9,598.1 703.7,594.7 " stroke="#C04E15" stroke-width="1.4" stroke-linecap="round" fill="none"/>
<defs><linearGradient id="cg12" gradientUnits="userSpaceOnUse" x1="649.7" y1="578.6" x2="625.5" y2="615.4"><stop offset="0" stop-color="#F2812F"/><stop offset="0.3" stop-color="#F68F3C"/><stop offset="0.55" stop-color="#F07A28"/><stop offset="0.85" stop-color="#E5661D"/><stop offset="1" stop-color="#D25416"/></linearGradient></defs>
<path d="M579.5,560C582.3,554.9 589.4,549 595,547.3C600.6,545.6 604.8,545.5 613,549.8C621.2,554.1 633.3,564.4 644,573C654.7,581.6 667.1,592.3 677.4,601.3C687.7,610.3 700.1,621 705.7,627C711.3,633 710.5,633.9 710.9,637.4C711.3,640.9 711.7,646.4 708.3,647.7C704.9,649 699.3,648 690.3,645C681.3,642 666.2,635.3 654.2,629.7C642.2,624.1 628.9,617.6 618.2,611.6C607.5,605.6 596.5,599.2 589.8,593.6C583.1,588 579.9,583.8 578.2,578.2C576.5,572.6 576.7,565.1 579.5,560Z" fill="url(#cg12)" stroke="#7E3510" stroke-width="1.8" stroke-linejoin="round"/>
<path d="M604.9,575.3 Q609.3,572 610.6,566.7 M609.3,591.1 Q613.4,588 614.6,583 M625.8,588.3 Q629.8,585.5 630.8,580.7 M631.8,601.5 Q635.7,598.9 636.5,594.3 M644.7,604.3 Q648.4,601.9 649.1,597.5 M652.5,614.7 Q656.1,612.6 656.7,608.4 M665.7,617 Q669.1,615.1 669.5,611.2 M673.2,628 Q676.4,626.3 676.7,622.6 M686.6,630 Q689.7,628.5 689.8,625 " stroke="#C04E15" stroke-width="1.4" stroke-linecap="round" fill="none"/>
<path d="M618,705.4C618.8,700.9 622.4,698.6 626.9,696.5C631.4,694.4 638.4,692.4 644.8,693C651.1,693.6 655.8,695.8 665,700C674.2,704.2 687.5,711 700,718C712.5,725 728.3,734 740,742C751.7,750 769.1,761.9 770,766C770.9,770.1 754.5,766.1 745.6,766.5C736.7,766.9 725.8,768.6 716.5,768.5C707.2,768.4 698.6,767.9 689.6,766C680.6,764.1 670.9,761.1 662.7,757C654.5,752.9 647,746.9 640.3,741.3C633.6,735.7 626.1,729.3 622.4,723.3C618.7,717.3 617.2,709.9 618,705.4Z" fill="#458535" stroke="#1E3A12" stroke-width="1.8" stroke-linejoin="round" />
<path d="M768,766C765.1,764.7 756.3,760.6 750.4,757.9C744.5,755.3 738.7,752.6 732.8,750C726.9,747.4 721,744.9 715,742.4C709.1,739.9 703.1,737.5 697.1,735.2C691.1,732.9 685.1,730.6 679,728.4C673,726.2 666.9,724.1 660.8,722C654.7,719.9 648.5,717.9 642.4,715.9C636.3,713.9 627.1,711 624,710" fill="none" stroke="#B7D68C" stroke-width="2.0" stroke-linecap="round" opacity="0.8"/>
<path d="M745.5,755.7 Q745.4,746.7 738.3,738.5 M736.4,751.6 Q728.2,760.4 713.8,762.1 M727.4,747.7 Q727.2,737.1 719,727.6 M718.3,743.8 Q709.4,753.2 694,755 M709.1,740 Q709,728.7 700.2,718.5 M700,736.3 Q691.9,744.9 677.8,746.6 M690.7,732.8 Q690.6,718.8 679.6,706.1 M681.5,729.3 Q674,737.3 661,738.8 M672.2,726 Q672,714.6 663.1,704.3 M662.8,722.7 Q656.1,729.9 644.4,731.2 " fill="none" stroke="#B7D68C" stroke-width="1.2" stroke-linecap="round" opacity="0.8"/>
<path d="M725.4,609C729.5,605.1 733.7,601.3 738.9,601.3C744.1,601.3 750.8,604 756.8,609C762.8,614 769.9,623.3 774.7,631.5C779.6,639.7 783.9,649.4 785.9,658.4C787.9,667.4 788.1,677.5 787,685.3C785.9,693.1 782,699.1 779.2,705.4C776.4,711.7 772.5,718.1 770.2,723.3C768,728.5 768.2,736.5 765.7,736.8C763.2,737.1 759.3,731.1 755,725C750.7,718.9 745,709.2 740,700C735,690.8 729.3,679.9 725,670C720.7,660.1 715.8,648 714,640.5C712.2,633 712.3,630 714.2,624.8C716.1,619.5 721.3,612.9 725.4,609Z" fill="#468636" stroke="#1E3A12" stroke-width="1.8" stroke-linejoin="round" />
<path d="M766,736C765.6,733.3 764.4,725 763.5,719.5C762.6,714 761.8,708.5 760.8,703C759.9,697.6 758.9,692.1 757.8,686.6C756.8,681.2 755.6,675.8 754.4,670.3C753.2,664.9 751.9,659.5 750.6,654.1C749.2,648.8 747.8,643.4 746.3,638C744.8,632.7 743.3,627.3 741.7,622C740.2,616.7 737.8,608.7 737,606" fill="none" stroke="#B7D68C" stroke-width="2.0" stroke-linecap="round" opacity="0.8"/>
<path d="M762.8,714.9 Q771.9,708.6 775.4,695.8 M761.4,706.5 Q749.8,704.5 740.6,693.8 M760,698 Q771.9,689.8 776.5,673 M758.4,689.7 Q745.5,687.5 735.2,675.5 M756.8,681.3 Q769.3,672.6 774.2,654.9 M755,672.9 Q740.5,670.5 729.1,657.2 M753.1,664.6 Q764,657.2 768.2,641.9 M751.1,656.3 Q737.1,654 726.1,641.1 M749,648.1 Q758.6,641.5 762.3,628.1 M746.8,639.8 Q735.3,637.9 726.2,627.3 " fill="none" stroke="#B7D68C" stroke-width="1.2" stroke-linecap="round" opacity="0.8"/>
<path d="M765,734C765.5,737 767.2,746.3 768,752C768.8,757.7 769.7,765.3 770,768" fill="none" stroke="#1E3A12" stroke-width="7.5" stroke-linecap="round"/>
<path d="M765,734C765.5,737 767.2,746.3 768,752C768.8,757.7 769.7,765.3 770,768" fill="none" stroke="#9CC45C" stroke-width="4.5" stroke-linecap="round"/>
<path d="M651.5,642.7C655.8,640.2 666.2,637.4 674,637C681.8,636.6 691.4,638 698.5,640.5C705.6,643 710.5,646.5 716.5,651.7C722.5,656.9 729.5,664.3 734.4,671.8C739.2,679.3 743.4,688.6 745.6,696.5C747.8,704.4 748.2,712.2 747.8,718.9C747.4,725.6 744.8,733.1 743.3,736.8C741.8,740.5 743.4,740.5 738.9,741.3C734.4,742 724,742.8 716.5,741.3C709,739.8 701.5,736.8 694,732.3C686.5,727.8 678,721.1 671.7,714.4C665.4,707.7 659.7,699.5 656,692C652.3,684.5 650.6,676.3 649.3,669.6C648,662.9 647.6,656.2 648,651.7C648.4,647.2 647.2,645.2 651.5,642.7Z" fill="#5A9842" stroke="#1E3A12" stroke-width="1.8" stroke-linejoin="round" />
<path d="M668,650 C700,645 725,670 738,705 C730,715 712,712 700,700 C680,685 668,665 668,650 Z" fill="#6AA84D" opacity="0.7"/>
<path d="M739,739C737.1,737.2 731.5,732 727.8,728.4C724.1,724.8 720.3,721.3 716.7,717.7C713,714.1 709.4,710.4 705.8,706.7C702.3,703 698.7,699.3 695.3,695.5C691.8,691.7 688.4,687.9 685.1,684C681.7,680.1 678.4,676.2 675.2,672.2C671.9,668.2 668.7,664.2 665.5,660.1C662.3,656.1 657.6,650 656,648" fill="none" stroke="#B7D68C" stroke-width="2.0" stroke-linecap="round" opacity="0.8"/>
<path d="M724.7,725.4 Q731.4,711.4 726.8,693.2 M719,719.9 Q702.6,726 682.8,719 M713.4,714.4 Q720.9,698.7 715.7,678.4 M707.8,708.8 Q691.6,714.8 672,707.8 M702.3,703.1 Q709.5,688.2 704.6,669 M696.9,697.3 Q678.4,704.2 656.1,696.2 M691.7,691.5 Q699.6,674.9 694.1,653.5 M686.4,685.6 Q668.7,692.2 647.4,684.5 M681.3,679.6 Q688.2,665.2 683.5,646.7 M676.3,673.5 Q661.4,679 643.4,672.6 " fill="none" stroke="#B7D68C" stroke-width="1.2" stroke-linecap="round" opacity="0.8"/>
<path d="M734,736C737.5,739.2 747.8,749.3 755,755C762.2,760.7 773.3,767.8 777,770.4" fill="none" stroke="#1E3A12" stroke-width="8.5" stroke-linecap="round"/>
<path d="M734,736C737.5,739.2 747.8,749.3 755,755C762.2,760.7 773.3,767.8 777,770.4" fill="none" stroke="#9CC45C" stroke-width="5.5" stroke-linecap="round"/>
</g>
<defs><radialGradient id="chk" cx="0.5" cy="0.45" r="0.62"><stop offset="0.35" stop-color="#EFAE6A"/><stop offset="0.8" stop-color="#E39650"/><stop offset="1" stop-color="#CF7C3A"/></radialGradient></defs>
<g id="chicken">
<path d="M828.6,328C833,320.5 842.6,310.5 851,305.6C859.4,300.7 870.6,299.5 879,298.6C887.4,297.7 895.1,298.7 901.4,300C907.7,301.3 913.8,302.7 917,306.4C920.2,310.1 920.4,316.5 920.6,322.4C920.8,328.3 920.5,334.5 918.2,342C915.9,349.5 912.1,359.7 907,367.2C901.9,374.7 894.4,380.7 887.4,386.8C880.4,392.9 873.4,398.5 865,403.6C856.6,408.7 843.5,417.6 837,417.6C830.5,417.6 828.1,410.1 825.8,403.6C823.5,397.1 823.2,387.3 823,378.4C822.8,369.5 823.5,358.8 824.4,350.4C825.3,342 824.2,335.5 828.6,328Z" fill="#DE998E" opacity="0.8"/>
<path d="M831.4,482C830.9,475.7 835.6,464.3 839.8,454C844,443.7 849.6,431.6 856.6,420.4C863.6,409.2 872.9,397.5 881.8,386.8C890.7,376.1 900.9,364.2 909.8,356C918.7,347.8 927.1,341.8 935,337.8C942.9,333.8 949.9,332 957.4,332.2C964.9,332.4 973.7,335.2 979.8,339.2C985.9,343.2 990.5,349.5 993.8,356C997.1,362.5 999.2,371.4 999.4,378.4C999.6,385.4 998,392.4 995.2,398C992.4,403.6 987.8,406.5 982.6,412C977.4,417.5 971.9,422.2 964,431C956.1,439.8 944.5,456.5 935,465C925.5,473.5 917.3,477.8 907,482C896.7,486.2 884.1,488.8 873.4,490.4C862.7,492 849.6,493.2 842.6,491.8C835.6,490.4 831.9,488.3 831.4,482Z" fill="#DE998E" opacity="0.8"/>
<path d="M924.3,501.5C921.1,496.6 928.6,486.1 933.3,478.3C938,470.6 946.2,462.6 952.7,455C959.2,447.4 966.5,439.4 972,433C977.5,426.6 981.7,420.3 986,416.5C990.3,412.7 992.6,409.4 997.8,410C1003,410.6 1010.4,416.4 1017,420.3C1023.6,424.2 1032.8,427.8 1037.7,433.2C1042.7,438.6 1045,447.1 1046.7,452.5C1048.4,457.9 1048.6,460 1048,465.4C1047.4,470.8 1045.9,479.2 1042.9,484.8C1039.9,490.4 1036.5,494.9 1030,499C1023.5,503.1 1012.8,507.3 1004.2,509.2C995.6,511.1 987,510.7 978.4,510.5C969.8,510.3 961.7,509.5 952.7,508C943.7,506.5 927.5,506.4 924.3,501.5Z" fill="#DE998E" opacity="0.8"/>
<path d="M824.6,322C829,314.5 838.6,304.5 847,299.6C855.4,294.7 866.6,293.5 875,292.6C883.4,291.7 891.1,292.7 897.4,294C903.7,295.3 909.8,296.7 913,300.4C916.2,304.1 916.4,310.5 916.6,316.4C916.8,322.3 916.5,328.5 914.2,336C911.9,343.5 908.1,353.7 903,361.2C897.9,368.7 890.4,374.7 883.4,380.8C876.4,386.9 869.4,392.5 861,397.6C852.6,402.7 839.5,411.6 833,411.6C826.5,411.6 824.1,404.1 821.8,397.6C819.5,391.1 819.2,381.3 819,372.4C818.8,363.5 819.5,352.8 820.4,344.4C821.3,336 820.2,329.5 824.6,322Z" fill="url(#chk)" stroke="#6E2E12" stroke-width="2" stroke-linejoin="round"/>
<path d="M838,330 C850,305 885,298 900,305 C895,330 870,360 845,380 C832,370 832,345 838,330 Z" fill="#F4C189" opacity="0.65"/>
<path d="M914,302C916.3,303.1 916.6,310.7 916.6,316.4C916.6,322.1 916.5,328.5 914.2,336C911.9,343.5 908.1,353.7 903,361.2C897.9,368.7 890.4,374.7 883.4,380.8C876.4,386.9 869.4,392.5 861,397.6C852.6,402.7 835.4,412.2 833,411.6C830.6,411 841.4,401.1 846.9,394.1C852.4,387.2 859.4,378.2 865.7,369.9C872,361.6 879.6,351.6 884.5,344.4C889.4,337.2 892.2,332.6 895.3,326.9C898.4,321.2 899.9,314.1 903,310C906.1,305.9 911.7,300.9 914,302Z" fill="#F6E6DA" stroke="#6E2E12" stroke-width="1.4" stroke-linejoin="round"/>
<path d="M833,330.4C833.6,331.6 845.2,328.3 852.4,325.6C859.5,322.9 869.3,318.3 875.9,314.4C882.5,310.5 892.4,303.6 891.8,302.4C891.2,301.2 879.6,304.5 872.4,307.2C865.3,309.9 855.5,314.5 848.9,318.4C842.3,322.3 832.4,329.2 833,330.4Z" fill="#AF632F"/>
<path d="M840.1,327 L884.7,305.8" stroke="#8A4620" stroke-width="2.4" stroke-linecap="round"/>
<path d="M833,355.6C833.5,356.8 844.6,354 851.4,351.7C858.2,349.4 867.6,345.2 873.8,341.6C880.1,338.1 889.5,331.6 889,330.4C888.5,329.2 877.4,332 870.6,334.3C863.8,336.6 854.4,340.8 848.2,344.4C841.9,347.9 832.5,354.4 833,355.6Z" fill="#AF632F"/>
<path d="M839.7,352.6 L882.3,333.4" stroke="#8A4620" stroke-width="2.4" stroke-linecap="round"/>
<path d="M832,386.4C832.6,387.6 839.8,386.3 844.1,385C848.5,383.6 854.2,380.8 858,378.2C861.7,375.7 867.2,370.8 866.6,369.6C866,368.4 858.8,369.7 854.5,371C850.1,372.4 844.4,375.2 840.6,377.8C836.9,380.3 831.4,385.2 832,386.4Z" fill="#AF632F"/>
<path d="M836.2,384.4 L862.4,371.6" stroke="#8A4620" stroke-width="2.4" stroke-linecap="round"/>
<path d="M827.4,476C826.9,469.7 831.6,458.3 835.8,448C840,437.7 845.6,425.6 852.6,414.4C859.6,403.2 868.9,391.5 877.8,380.8C886.7,370.1 896.9,358.2 905.8,350C914.7,341.8 923.1,335.8 931,331.8C938.9,327.8 945.9,326 953.4,326.2C960.9,326.4 969.7,329.2 975.8,333.2C981.9,337.2 986.5,343.5 989.8,350C993.1,356.5 995.2,365.4 995.4,372.4C995.6,379.4 994,386.4 991.2,392C988.4,397.6 983.8,400.5 978.6,406C973.4,411.5 967.9,416.2 960,425C952.1,433.8 940.5,450.5 931,459C921.5,467.5 913.3,471.8 903,476C892.7,480.2 880.1,482.8 869.4,484.4C858.7,486 845.6,487.2 838.6,485.8C831.6,484.4 827.9,482.3 827.4,476Z" fill="url(#chk)" stroke="#6E2E12" stroke-width="2" stroke-linejoin="round"/>
<path d="M860,420 C890,375 935,340 965,340 C985,350 985,380 965,400 C935,430 895,455 865,460 C850,450 850,435 860,420 Z" fill="#F4C189" opacity="0.65"/>
<clipPath id="clipB"><path d="M827.4,476C826.9,469.7 831.6,458.3 835.8,448C840,437.7 845.6,425.6 852.6,414.4C859.6,403.2 868.9,391.5 877.8,380.8C886.7,370.1 896.9,358.2 905.8,350C914.7,341.8 923.1,335.8 931,331.8C938.9,327.8 945.9,326 953.4,326.2C960.9,326.4 969.7,329.2 975.8,333.2C981.9,337.2 986.5,343.5 989.8,350C993.1,356.5 995.2,365.4 995.4,372.4C995.6,379.4 994,386.4 991.2,392C988.4,397.6 983.8,400.5 978.6,406C973.4,411.5 967.9,416.2 960,425C952.1,433.8 940.5,450.5 931,459C921.5,467.5 913.3,471.8 903,476C892.7,480.2 880.1,482.8 869.4,484.4C858.7,486 845.6,487.2 838.6,485.8C831.6,484.4 827.9,482.3 827.4,476Z"/></clipPath>
<path clip-path="url(#clipB)" d="M893,480 C925,458 950,428 973,397 L995,400 C975,430 945,465 893,480 Z" fill="#F6E3D2" opacity="0.85"/>
<path d="M937,337C936.3,338.1 942.9,344.9 947.4,348.7C951.9,352.5 958.9,357.2 964.2,359.9C969.5,362.6 978.3,366.1 979,365C979.7,363.9 973.1,357.1 968.6,353.3C964.1,349.5 957.1,344.8 951.8,342.1C946.5,339.4 937.7,335.9 937,337Z" fill="#AF632F"/>
<path d="M942,340.4 L974,361.6" stroke="#8A4620" stroke-width="2.4" stroke-linecap="round"/>
<path d="M911,355.6C910.3,356.8 920.3,364.8 927,369.4C933.7,374 943.7,379.7 951,383.2C958.3,386.6 970.3,391.2 971,390C971.7,388.8 961.7,380.8 955,376.2C948.3,371.6 938.3,365.9 931,362.4C923.7,359 911.7,354.4 911,355.6Z" fill="#AF632F"/>
<path d="M918.2,359.7 L963.8,385.9" stroke="#8A4620" stroke-width="2.4" stroke-linecap="round"/>
<path d="M893.6,381C892.9,382.2 903.5,390.7 910.6,395.6C917.7,400.4 928.2,406.6 936,410.4C943.7,414.1 956.3,419.2 957,418C957.7,416.8 947.1,408.3 940,403.4C932.9,398.6 922.4,392.4 914.6,388.6C906.9,384.9 894.3,379.8 893.6,381Z" fill="#AF632F"/>
<path d="M901.2,385.4 L949.4,413.6" stroke="#8A4620" stroke-width="2.4" stroke-linecap="round"/>
<path d="M868.4,402C867.7,403.2 878.2,411.3 885.2,416C892.2,420.7 902.6,426.5 910.3,430C917.9,433.5 930.3,438.2 931,437C931.7,435.8 921.2,427.7 914.2,423C907.2,418.3 896.8,412.5 889.1,409C881.5,405.5 869.1,400.8 868.4,402Z" fill="#AF632F"/>
<path d="M875.9,406.2 L923.5,432.8" stroke="#8A4620" stroke-width="2.4" stroke-linecap="round"/>
<path d="M854.4,425.6C853.7,426.8 861.8,433.7 867.3,437.6C872.7,441.5 881,446.2 887.1,449C893.3,451.7 903.3,455.2 904,454C904.7,452.8 896.6,445.9 891.1,442C885.7,438.1 877.4,433.4 871.3,430.6C865.1,427.9 855.1,424.4 854.4,425.6Z" fill="#AF632F"/>
<path d="M860.4,429 L898,450.6" stroke="#8A4620" stroke-width="2.4" stroke-linecap="round"/>
<path d="M844.6,452.6C844,453.8 847.9,458 850.7,460.2C853.5,462.3 857.9,464.6 861.3,465.5C864.7,466.5 870.4,467.2 871,466C871.6,464.8 867.7,460.6 864.9,458.4C862.1,456.3 857.7,454 854.3,453.1C850.9,452.1 845.2,451.4 844.6,452.6Z" fill="#AF632F"/>
<path d="M847.8,454.2 L867.8,464.4" stroke="#8A4620" stroke-width="2.4" stroke-linecap="round"/>
<path d="M920.3,495.5C917.1,490.6 924.6,480.1 929.3,472.3C934,464.6 942.2,456.6 948.7,449C955.2,441.4 962.5,433.4 968,427C973.5,420.6 977.7,414.3 982,410.5C986.3,406.7 988.6,403.4 993.8,404C999,404.6 1006.4,410.4 1013,414.3C1019.6,418.2 1028.8,421.8 1033.7,427.2C1038.7,432.6 1041,441.1 1042.7,446.5C1044.4,451.9 1044.6,454 1044,459.4C1043.4,464.8 1041.9,473.2 1038.9,478.8C1035.9,484.4 1032.5,488.9 1026,493C1019.5,497.1 1008.8,501.3 1000.2,503.2C991.6,505.1 983,504.7 974.4,504.5C965.8,504.3 957.7,503.5 948.7,502C939.7,500.5 923.5,500.4 920.3,495.5Z" fill="url(#chk)" stroke="#6E2E12" stroke-width="2" stroke-linejoin="round"/>
<path d="M975,470 C985,440 1000,418 1015,422 C1032,437 1035,460 1020,480 C1005,492 985,492 975,470 Z" fill="#F4C189" opacity="0.6"/>
<path d="M920.3,495.5C919.2,491.4 924.6,480.1 929.3,472.3C934,464.6 942.2,456.6 948.7,449C955.2,441.4 962.5,433.4 968,427C973.5,420.6 977.7,414.3 982,410.5C986.3,406.7 992.5,402.4 993.8,404C995.1,405.6 992,414.4 990,420C988,425.6 986.3,430.1 982,437.5C977.7,444.9 969.5,456.7 964,464.6C958.5,472.6 953.4,479.8 948.7,485.2C944,490.6 940.5,495.1 935.8,496.8C931.1,498.5 921.4,499.6 920.3,495.5Z" fill="#F6E6DA" stroke="#6E2E12" stroke-width="1.4" stroke-linejoin="round"/>
<path d="M956.4,490.4C957.6,491 964.1,482.2 967.7,476.3C971.3,470.4 975.5,461.6 977.9,455.1C980.3,448.7 983.2,438.1 982,437.5C980.8,436.9 974.3,445.7 970.7,451.6C967.1,457.5 962.9,466.3 960.5,472.8C958.1,479.2 955.2,489.8 956.4,490.4Z" fill="#AF632F"/>
<path d="M959.5,484.1 L978.9,443.8" stroke="#8A4620" stroke-width="2.4" stroke-linecap="round"/>
<path d="M988.6,482.6C989.8,483.1 996.2,472 999.7,464.7C1003.1,457.4 1007.2,446.7 1009.4,438.9C1011.6,431.2 1014.2,418.7 1013,418.2C1011.8,417.7 1005.4,428.8 1001.9,436.1C998.5,443.4 994.4,454.1 992.2,461.9C990,469.6 987.4,482.1 988.6,482.6Z" fill="#AF632F"/>
<path d="M991.5,474.9 L1010.1,425.9" stroke="#8A4620" stroke-width="2.4" stroke-linecap="round"/>
<path d="M1018,477.5C1019.3,477.9 1023.6,471.2 1025.7,466.7C1027.9,462.3 1030,455.6 1030.9,450.7C1031.8,445.9 1032.3,437.9 1031,437.5C1029.7,437.1 1025.4,443.8 1023.3,448.3C1021.1,452.7 1019,459.4 1018.1,464.3C1017.2,469.1 1016.7,477.1 1018,477.5Z" fill="#AF632F"/>
<path d="M1019.6,472.7 L1029.4,442.3" stroke="#8A4620" stroke-width="2.4" stroke-linecap="round"/>
<path d="M877,318h0.1M860,349h0.1M852,374h0.1M924,372h0.1M946,396h0.1M918,412h0.1M897,432h0.1M885,448h0.1M1005,440h0.1M1023,458h0.1M1012,470h0.1M900,390h0.1M935,415h0.1" stroke="#8E4E2A" stroke-width="3" stroke-linecap="round"/>
</g>
<g id="rice">
<path d="M833.7,561.7C842.8,557.2 862.7,554.8 880.6,554C898.5,553.2 922.4,557 941,557C959.6,557 975.8,553.5 992.5,554C1009.2,554.5 1030.4,551.4 1041,560C1051.6,568.6 1055.5,592.8 1056,605.5C1056.5,618.2 1049.5,624.9 1044,636C1038.5,647.1 1029.3,660.5 1022.7,672C1016.1,683.5 1010.7,695.4 1004.6,705C998.5,714.6 993.5,722.9 986.4,729.5C979.3,736.1 972.1,738.5 962,744.6C951.9,750.7 937,761.4 926,766C915,770.6 905.8,769.5 895.7,772C885.6,774.5 874.6,780 865.5,781C856.4,782 847.6,783.5 841,778C834.4,772.5 829.5,759.9 826,747.7C822.5,735.5 820.5,720.1 820,705C819.5,689.9 822.7,672.6 823,657C823.3,641.4 821.1,624.3 821.6,611.6C822.1,598.9 824,589.3 826,581C828,572.7 824.6,566.2 833.7,561.7Z" fill="#9DBCC4" opacity="0.55"/>
<path d="M828.7,555.7C837.8,551.2 857.7,548.8 875.6,548C893.5,547.2 917.4,551 936,551C954.6,551 970.8,547.5 987.5,548C1004.2,548.5 1025.4,545.4 1036,554C1046.6,562.6 1050.5,586.8 1051,599.5C1051.5,612.2 1044.5,618.9 1039,630C1033.5,641.1 1024.3,654.5 1017.7,666C1011.1,677.5 1005.7,689.4 999.6,699C993.5,708.6 988.5,716.9 981.4,723.5C974.3,730.1 967.1,732.5 957,738.6C946.9,744.7 932,755.4 921,760C910,764.6 900.8,763.5 890.7,766C880.6,768.5 869.6,774 860.5,775C851.4,776 842.6,777.5 836,772C829.4,766.5 824.5,753.9 821,741.7C817.5,729.5 815.5,714.1 815,699C814.5,683.9 817.7,666.6 818,651C818.3,635.4 816.1,618.3 816.6,605.6C817.1,592.9 819,583.3 821,575C823,566.7 819.6,560.2 828.7,555.7Z" fill="#F3F0EA" stroke="#D5CCBD" stroke-width="1.2"/>
<path d="M990,700 C1010,670 1030,640 1045,605 L1050,600 C1045,640 1020,690 985,725 C960,745 920,762 880,770 C930,745 970,725 990,700 Z" fill="#DCD5C8" opacity="0.8"/>
<path d="M822,700 C830,730 840,760 860,772 L836,772 C826,760 818,730 817,700 Z" fill="#E2DCD1" opacity="0.8"/>
<ellipse transform="translate(982.1 549.6) rotate(97)" rx="9.2" ry="3.6" fill="#FFFFFF"/>
<ellipse transform="translate(1002.4 550.3) rotate(111)" rx="8.2" ry="3.6" fill="#FDFCF9"/>
<ellipse transform="translate(832.4 556.4) rotate(67)" rx="8.1" ry="3.2" fill="#F4F2ED"/>
<ellipse transform="translate(840.5 555.7) rotate(169)" rx="8.5" ry="3.4" fill="#F4F2ED"/>
<ellipse transform="translate(854.5 558.1) rotate(31)" rx="8.0" ry="3.3" fill="#FDFCF9"/>
<ellipse transform="translate(866.1 555) rotate(68)" rx="9.4" ry="3.4" fill="#FFFFFF"/>
<ellipse transform="translate(878.9 558.3) rotate(100)" rx="8.9" ry="3.5" fill="#FDFCF9"/>
<ellipse transform="translate(887.8 559.7) rotate(140)" rx="8.5" ry="3.4" fill="#FFFFFF"/>
<ellipse transform="translate(895.6 554.1) rotate(57)" rx="8.0" ry="3.3" fill="#F4F2ED"/>
<ellipse transform="translate(906.9 555.3) rotate(170)" rx="8.6" ry="3.5" fill="#FDFCF9"/>
<ellipse transform="translate(922.1 556.1) rotate(118)" rx="9.2" ry="3.6" fill="#FFFFFF"/>
<ellipse transform="translate(929.8 560.3) rotate(83)" rx="9.5" ry="3.4" fill="#FDFCF9"/>
<ellipse transform="translate(939.9 555.6) rotate(101)" rx="8.3" ry="3.3" fill="#FFFFFF"/>
<ellipse transform="translate(950.8 557.9) rotate(162)" rx="8.7" ry="3.7" fill="#FDFCF9"/>
<ellipse transform="translate(962.8 555.4) rotate(180)" rx="9.5" ry="3.7" fill="#FDFCF9"/>
<ellipse transform="translate(974.6 554.5) rotate(8)" rx="9.0" ry="3.6" fill="#F4F2ED"/>
<ellipse transform="translate(982.8 558.2) rotate(143)" rx="8.8" ry="3.7" fill="#FFFFFF"/>
<ellipse transform="translate(996 554.3) rotate(69)" rx="9.1" ry="3.8" fill="#F4F2ED"/>
<ellipse transform="translate(1011 557.6) rotate(175)" rx="8.3" ry="3.4" fill="#FFFFFF"/>
<ellipse transform="translate(1021 553.9) rotate(130)" rx="8.2" ry="3.3" fill="#FFFFFF"/>
<ellipse transform="translate(1030.8 557.6) rotate(48)" rx="8.4" ry="3.5" fill="#FDFCF9"/>
<ellipse transform="translate(824.3 566.7) rotate(32)" rx="8.8" ry="3.4" fill="#F4F2ED"/>
<ellipse transform="translate(839.9 569.3) rotate(54)" rx="8.2" ry="3.7" fill="#FFFFFF"/>
<ellipse transform="translate(849 567.5) rotate(28)" rx="8.5" ry="3.8" fill="#F4F2ED"/>
<ellipse transform="translate(860.8 567) rotate(140)" rx="8.7" ry="3.4" fill="#FDFCF9"/>
<ellipse transform="translate(870.2 563.2) rotate(58)" rx="9.2" ry="3.2" fill="#FDFCF9"/>
<ellipse transform="translate(877.6 569.7) rotate(158)" rx="9.0" ry="3.5" fill="#F4F2ED"/>
<ellipse transform="translate(894.3 565.4) rotate(10)" rx="8.8" ry="3.3" fill="#F4F2ED"/>
<ellipse transform="translate(905.6 569.8) rotate(15)" rx="9.0" ry="3.3" fill="#FFFFFF"/>
<ellipse transform="translate(913.9 563.7) rotate(137)" rx="8.6" ry="3.7" fill="#FFFFFF"/>
<ellipse transform="translate(926.9 564.1) rotate(86)" rx="9.2" ry="3.5" fill="#FDFCF9"/>
<ellipse transform="translate(936.3 565.1) rotate(157)" rx="8.2" ry="3.4" fill="#F4F2ED"/>
<ellipse transform="translate(946.5 564.7) rotate(97)" rx="8.3" ry="3.8" fill="#F4F2ED"/>
<ellipse transform="translate(959.6 564.6) rotate(56)" rx="9.3" ry="3.7" fill="#FDFCF9"/>
<ellipse transform="translate(972.5 567.7) rotate(79)" rx="8.3" ry="3.8" fill="#FDFCF9"/>
<ellipse transform="translate(980.1 564) rotate(40)" rx="8.2" ry="3.4" fill="#F4F2ED"/>
<ellipse transform="translate(989.9 567.3) rotate(41)" rx="8.1" ry="3.6" fill="#F4F2ED"/>
<ellipse transform="translate(1000 563.7) rotate(114)" rx="9.4" ry="3.3" fill="#F4F2ED"/>
<ellipse transform="translate(1011.1 569.5) rotate(155)" rx="8.9" ry="3.7" fill="#FDFCF9"/>
<ellipse transform="translate(1021 564.9) rotate(120)" rx="9.3" ry="3.5" fill="#FFFFFF"/>
<ellipse transform="translate(1033 564.1) rotate(168)" rx="8.1" ry="3.8" fill="#F4F2ED"/>
<ellipse transform="translate(822.5 578.2) rotate(34)" rx="8.4" ry="3.3" fill="#F4F2ED"/>
<ellipse transform="translate(828.7 575.6) rotate(76)" rx="8.6" ry="3.6" fill="#FDFCF9"/>
<ellipse transform="translate(842.3 577.7) rotate(121)" rx="9.3" ry="3.5" fill="#F4F2ED"/>
<ellipse transform="translate(856.9 573.2) rotate(72)" rx="9.4" ry="3.5" fill="#F4F2ED"/>
<ellipse transform="translate(863.4 578.6) rotate(45)" rx="8.6" ry="3.5" fill="#F4F2ED"/>
<ellipse transform="translate(873.3 575.7) rotate(76)" rx="8.1" ry="3.5" fill="#FDFCF9"/>
<ellipse transform="translate(884.9 574.3) rotate(166)" rx="8.7" ry="3.4" fill="#FFFFFF"/>
<ellipse transform="translate(897.1 578.6) rotate(99)" rx="8.5" ry="3.6" fill="#F4F2ED"/>
<ellipse transform="translate(905.4 579.5) rotate(150)" rx="9.5" ry="3.4" fill="#FDFCF9"/>
<ellipse transform="translate(922.8 579) rotate(153)" rx="8.2" ry="3.4" fill="#F4F2ED"/>
<ellipse transform="translate(928.2 575.9) rotate(38)" rx="8.2" ry="3.3" fill="#FFFFFF"/>
<ellipse transform="translate(940.8 573) rotate(68)" rx="8.4" ry="3.3" fill="#FFFFFF"/>
<ellipse transform="translate(955.9 574.4) rotate(141)" rx="8.1" ry="3.8" fill="#F4F2ED"/>
<ellipse transform="translate(963.2 575.5) rotate(172)" rx="8.6" ry="3.8" fill="#FFFFFF"/>
<ellipse transform="translate(978 576.4) rotate(129)" rx="9.2" ry="3.8" fill="#F4F2ED"/>
<ellipse transform="translate(983.1 574.6) rotate(174)" rx="8.5" ry="3.7" fill="#FDFCF9"/>
<ellipse transform="translate(997.1 576.3) rotate(135)" rx="9.5" ry="3.5" fill="#FDFCF9"/>
<ellipse transform="translate(1004.4 576.6) rotate(91)" rx="8.7" ry="3.3" fill="#FDFCF9"/>
<ellipse transform="translate(1021 573.7) rotate(173)" rx="8.8" ry="3.8" fill="#FFFFFF"/>
<ellipse transform="translate(1026.6 573.9) rotate(107)" rx="8.9" ry="3.2" fill="#FDFCF9"/>
<ellipse transform="translate(1041.7 574.2) rotate(22)" rx="8.7" ry="3.7" fill="#F4F2ED"/>
<ellipse transform="translate(825.4 586) rotate(94)" rx="9.0" ry="3.4" fill="#FFFFFF"/>
<ellipse transform="translate(840 583.3) rotate(129)" rx="9.3" ry="3.5" fill="#FDFCF9"/>
<ellipse transform="translate(846.2 584.7) rotate(121)" rx="9.1" ry="3.7" fill="#FDFCF9"/>
<ellipse transform="translate(857.6 584.1) rotate(135)" rx="8.1" ry="3.2" fill="#F4F2ED"/>
<ellipse transform="translate(867 585.1) rotate(180)" rx="8.3" ry="3.5" fill="#FFFFFF"/>
<ellipse transform="translate(884.5 582.4) rotate(38)" rx="8.6" ry="3.5" fill="#F4F2ED"/>
<ellipse transform="translate(890.4 588.4) rotate(159)" rx="8.4" ry="3.8" fill="#F4F2ED"/>
<ellipse transform="translate(905.7 584.5) rotate(28)" rx="8.9" ry="3.3" fill="#FFFFFF"/>
<ellipse transform="translate(916.3 586.8) rotate(110)" rx="8.6" ry="3.7" fill="#FDFCF9"/>
<ellipse transform="translate(928.4 586.5) rotate(1)" rx="8.8" ry="3.4" fill="#FFFFFF"/>
<ellipse transform="translate(938.2 584) rotate(119)" rx="8.3" ry="3.5" fill="#F4F2ED"/>
<ellipse transform="translate(950.1 582.8) rotate(21)" rx="8.1" ry="3.2" fill="#F4F2ED"/>
<ellipse transform="translate(955.2 585.8) rotate(49)" rx="8.5" ry="3.5" fill="#FDFCF9"/>
<ellipse transform="translate(969.7 586.9) rotate(37)" rx="8.2" ry="3.7" fill="#FFFFFF"/>
<ellipse transform="translate(980.9 583.7) rotate(88)" rx="8.5" ry="3.6" fill="#FFFFFF"/>
<ellipse transform="translate(993.8 587.8) rotate(17)" rx="8.6" ry="3.6" fill="#FDFCF9"/>
<ellipse transform="translate(1001.5 583.8) rotate(1)" rx="8.9" ry="3.5" fill="#F4F2ED"/>
<ellipse transform="translate(1014.9 586.4) rotate(47)" rx="8.8" ry="3.6" fill="#FDFCF9"/>
<ellipse transform="translate(1025.7 585.8) rotate(77)" rx="8.7" ry="3.2" fill="#FDFCF9"/>
<ellipse transform="translate(1031.6 582.4) rotate(159)" rx="9.0" ry="3.8" fill="#F4F2ED"/>
<ellipse transform="translate(822.8 595.3) rotate(27)" rx="8.5" ry="3.7" fill="#F4F2ED"/>
<ellipse transform="translate(828.9 593.4) rotate(162)" rx="8.9" ry="3.6" fill="#FDFCF9"/>
<ellipse transform="translate(844.6 597.3) rotate(162)" rx="9.5" ry="3.7" fill="#F4F2ED"/>
<ellipse transform="translate(851.5 593) rotate(19)" rx="8.9" ry="3.6" fill="#F4F2ED"/>
<ellipse transform="translate(866.5 597.4) rotate(73)" rx="8.7" ry="3.5" fill="#F4F2ED"/>
<ellipse transform="translate(876.3 592.3) rotate(167)" rx="8.9" ry="3.7" fill="#FFFFFF"/>
<ellipse transform="translate(889.1 598.1) rotate(146)" rx="9.2" ry="3.3" fill="#F4F2ED"/>
<ellipse transform="translate(900.2 591.4) rotate(133)" rx="9.4" ry="3.3" fill="#FFFFFF"/>
<ellipse transform="translate(907.3 597.8) rotate(144)" rx="8.7" ry="3.5" fill="#FDFCF9"/>
<ellipse transform="translate(922 596.9) rotate(48)" rx="9.0" ry="3.4" fill="#F4F2ED"/>
<ellipse transform="translate(932.5 592) rotate(157)" rx="9.4" ry="3.7" fill="#F4F2ED"/>
<ellipse transform="translate(944 592.8) rotate(147)" rx="9.1" ry="3.6" fill="#F4F2ED"/>
<ellipse transform="translate(952.2 593.4) rotate(143)" rx="8.3" ry="3.4" fill="#F4F2ED"/>
<ellipse transform="translate(961.6 591.4) rotate(35)" rx="8.7" ry="3.4" fill="#FFFFFF"/>
<ellipse transform="translate(973.3 597.3) rotate(174)" rx="8.7" ry="3.5" fill="#F4F2ED"/>
<ellipse transform="translate(984 595.7) rotate(72)" rx="8.5" ry="3.7" fill="#F4F2ED"/>
<ellipse transform="translate(999.9 595) rotate(169)" rx="9.0" ry="3.7" fill="#FDFCF9"/>
<ellipse transform="translate(1004.8 598) rotate(32)" rx="8.9" ry="3.3" fill="#FFFFFF"/>
<ellipse transform="translate(1021.7 593.1) rotate(20)" rx="8.4" ry="3.4" fill="#FDFCF9"/>
<ellipse transform="translate(1029 596.3) rotate(56)" rx="9.2" ry="3.6" fill="#F4F2ED"/>
<ellipse transform="translate(1041.2 594.8) rotate(69)" rx="9.1" ry="3.4" fill="#FDFCF9"/>
<ellipse transform="translate(829 604.4) rotate(129)" rx="8.8" ry="3.8" fill="#F4F2ED"/>
<ellipse transform="translate(838.7 605.3) rotate(66)" rx="8.4" ry="3.3" fill="#F4F2ED"/>
<ellipse transform="translate(845 605.2) rotate(59)" rx="8.8" ry="3.7" fill="#FDFCF9"/>
<ellipse transform="translate(857.7 606.5) rotate(130)" rx="9.2" ry="3.8" fill="#FFFFFF"/>
<ellipse transform="translate(868.6 602.8) rotate(74)" rx="8.4" ry="3.4" fill="#F4F2ED"/>
<ellipse transform="translate(880.3 602.7) rotate(23)" rx="8.1" ry="3.8" fill="#F4F2ED"/>
<ellipse transform="translate(891.4 607.2) rotate(122)" rx="8.4" ry="3.5" fill="#FFFFFF"/>
<ellipse transform="translate(905.8 604.9) rotate(54)" rx="9.2" ry="3.4" fill="#F4F2ED"/>
<ellipse transform="translate(914.3 600.6) rotate(52)" rx="9.0" ry="3.3" fill="#F4F2ED"/>
<ellipse transform="translate(924.5 604.7) rotate(118)" rx="9.1" ry="3.3" fill="#FFFFFF"/>
<ellipse transform="translate(935.8 603.7) rotate(38)" rx="9.0" ry="3.5" fill="#F4F2ED"/>
<ellipse transform="translate(946.8 606.9) rotate(143)" rx="8.3" ry="3.3" fill="#FDFCF9"/>
<ellipse transform="translate(955.7 601.2) rotate(93)" rx="9.1" ry="3.3" fill="#FFFFFF"/>
<ellipse transform="translate(969.9 602.9) rotate(147)" rx="8.0" ry="3.5" fill="#FFFFFF"/>
<ellipse transform="translate(981.8 605.3) rotate(40)" rx="8.6" ry="3.8" fill="#FDFCF9"/>
<ellipse transform="translate(988.9 600.8) rotate(44)" rx="8.7" ry="3.3" fill="#FDFCF9"/>
<ellipse transform="translate(1001.8 606.5) rotate(13)" rx="8.5" ry="3.6" fill="#FFFFFF"/>
<ellipse transform="translate(1012.4 605) rotate(35)" rx="9.0" ry="3.3" fill="#F4F2ED"/>
<ellipse transform="translate(1025.4 604.1) rotate(44)" rx="9.1" ry="3.8" fill="#FFFFFF"/>
<ellipse transform="translate(1036.1 600.6) rotate(135)" rx="8.6" ry="3.7" fill="#FFFFFF"/>
<ellipse transform="translate(1047.9 601.3) rotate(77)" rx="9.5" ry="3.4" fill="#FDFCF9"/>
<ellipse transform="translate(818.2 616.7) rotate(93)" rx="8.3" ry="3.6" fill="#FDFCF9"/>
<ellipse transform="translate(828.4 611.7) rotate(153)" rx="9.3" ry="3.2" fill="#F4F2ED"/>
<ellipse transform="translate(842.2 615.6) rotate(120)" rx="8.9" ry="3.8" fill="#FDFCF9"/>
<ellipse transform="translate(856.9 614.1) rotate(171)" rx="8.4" ry="3.8" fill="#F4F2ED"/>
<ellipse transform="translate(867.2 614.2) rotate(129)" rx="8.8" ry="3.7" fill="#FFFFFF"/>
<ellipse transform="translate(875.5 615.8) rotate(99)" rx="9.3" ry="3.5" fill="#FFFFFF"/>
<ellipse transform="translate(889.3 615.2) rotate(85)" rx="9.2" ry="3.4" fill="#F4F2ED"/>
<ellipse transform="translate(895.8 611.7) rotate(115)" rx="8.7" ry="3.4" fill="#FFFFFF"/>
<ellipse transform="translate(910.4 613.6) rotate(113)" rx="8.0" ry="3.4" fill="#FDFCF9"/>
<ellipse transform="translate(917.9 610.5) rotate(51)" rx="8.9" ry="3.7" fill="#FFFFFF"/>
<ellipse transform="translate(928.9 612.2) rotate(97)" rx="8.9" ry="3.6" fill="#FDFCF9"/>
<ellipse transform="translate(939 611.6) rotate(125)" rx="9.2" ry="3.5" fill="#FFFFFF"/>
<ellipse transform="translate(953.9 610.4) rotate(73)" rx="8.6" ry="3.3" fill="#FFFFFF"/>
<ellipse transform="translate(963.8 612.9) rotate(37)" rx="8.7" ry="3.8" fill="#FFFFFF"/>
<ellipse transform="translate(973.9 616.3) rotate(105)" rx="8.4" ry="3.3" fill="#FDFCF9"/>
<ellipse transform="translate(986.9 615.9) rotate(138)" rx="9.4" ry="3.4" fill="#F4F2ED"/>
<ellipse transform="translate(995.7 610) rotate(63)" rx="8.9" ry="3.4" fill="#FDFCF9"/>
<ellipse transform="translate(1009.3 615.9) rotate(172)" rx="9.0" ry="3.2" fill="#FFFFFF"/>
<ellipse transform="translate(1017.9 615.2) rotate(98)" rx="8.7" ry="3.3" fill="#F4F2ED"/>
<ellipse transform="translate(1030.2 611.5) rotate(39)" rx="8.8" ry="3.7" fill="#F4F2ED"/>
<ellipse transform="translate(1040.1 610.2) rotate(61)" rx="9.2" ry="3.6" fill="#F4F2ED"/>
<ellipse transform="translate(823.4 623.7) rotate(5)" rx="9.4" ry="3.4" fill="#F4F2ED"/>
<ellipse transform="translate(836.3 623.3) rotate(5)" rx="8.3" ry="3.8" fill="#FDFCF9"/>
<ellipse transform="translate(849 620.2) rotate(83)" rx="8.2" ry="3.6" fill="#F4F2ED"/>
<ellipse transform="translate(855.9 622) rotate(38)" rx="8.6" ry="3.6" fill="#FDFCF9"/>
<ellipse transform="translate(868.8 624.6) rotate(68)" rx="9.1" ry="3.7" fill="#FFFFFF"/>
<ellipse transform="translate(882.8 625.1) rotate(45)" rx="9.1" ry="3.6" fill="#F4F2ED"/>
<ellipse transform="translate(889.1 619.4) rotate(97)" rx="9.3" ry="3.2" fill="#FDFCF9"/>
<ellipse transform="translate(906.5 621.7) rotate(117)" rx="8.8" ry="3.4" fill="#F4F2ED"/>
<ellipse transform="translate(916 623.9) rotate(136)" rx="8.2" ry="3.7" fill="#F4F2ED"/>
<ellipse transform="translate(928.1 620.7) rotate(4)" rx="8.3" ry="3.5" fill="#FFFFFF"/>
<ellipse transform="translate(933.6 620.2) rotate(121)" rx="8.5" ry="3.5" fill="#FFFFFF"/>
<ellipse transform="translate(947.4 620.8) rotate(126)" rx="9.0" ry="3.6" fill="#FDFCF9"/>
<ellipse transform="translate(959.9 620.5) rotate(109)" rx="8.1" ry="3.5" fill="#FFFFFF"/>
<ellipse transform="translate(970.7 620.1) rotate(147)" rx="8.7" ry="3.5" fill="#FDFCF9"/>
<ellipse transform="translate(983.3 620.1) rotate(5)" rx="8.8" ry="3.5" fill="#F4F2ED"/>
<ellipse transform="translate(989.7 624) rotate(172)" rx="9.2" ry="3.6" fill="#FDFCF9"/>
<ellipse transform="translate(1001.3 624.3) rotate(14)" rx="8.4" ry="3.2" fill="#FFFFFF"/>
<ellipse transform="translate(1014.3 623.7) rotate(18)" rx="8.9" ry="3.2" fill="#FDFCF9"/>
<ellipse transform="translate(1025.9 625.3) rotate(108)" rx="9.1" ry="3.5" fill="#FFFFFF"/>
<ellipse transform="translate(1032.3 626.2) rotate(141)" rx="9.4" ry="3.2" fill="#FDFCF9"/>
<ellipse transform="translate(819.6 632.2) rotate(61)" rx="8.0" ry="3.4" fill="#FFFFFF"/>
<ellipse transform="translate(833.9 634.4) rotate(19)" rx="9.1" ry="3.8" fill="#F4F2ED"/>
<ellipse transform="translate(845.7 633.1) rotate(149)" rx="9.4" ry="3.4" fill="#FDFCF9"/>
<ellipse transform="translate(855 631.7) rotate(132)" rx="8.7" ry="3.8" fill="#FDFCF9"/>
<ellipse transform="translate(867.8 630.5) rotate(145)" rx="8.6" ry="3.6" fill="#F4F2ED"/>
<ellipse transform="translate(875.8 632) rotate(78)" rx="9.3" ry="3.3" fill="#FDFCF9"/>
<ellipse transform="translate(888.1 630.5) rotate(153)" rx="8.2" ry="3.8" fill="#FDFCF9"/>
<ellipse transform="translate(899.8 629.3) rotate(159)" rx="8.8" ry="3.6" fill="#FFFFFF"/>
<ellipse transform="translate(906.7 631.9) rotate(110)" rx="9.3" ry="3.7" fill="#FDFCF9"/>
<ellipse transform="translate(918.7 628.9) rotate(153)" rx="8.7" ry="3.6" fill="#FDFCF9"/>
<ellipse transform="translate(928.3 630.1) rotate(144)" rx="8.8" ry="3.7" fill="#FFFFFF"/>
<ellipse transform="translate(940.4 634.8) rotate(126)" rx="8.7" ry="3.3" fill="#FFFFFF"/>
<ellipse transform="translate(950.9 628.7) rotate(171)" rx="9.4" ry="3.6" fill="#FFFFFF"/>
<ellipse transform="translate(960.6 633.7) rotate(88)" rx="8.0" ry="3.6" fill="#F4F2ED"/>
<ellipse transform="translate(976.3 633.5) rotate(116)" rx="9.1" ry="3.7" fill="#FFFFFF"/>
<ellipse transform="translate(985.4 634.2) rotate(17)" rx="8.4" ry="3.2" fill="#F4F2ED"/>
<ellipse transform="translate(994.6 633.5) rotate(55)" rx="8.1" ry="3.6" fill="#F4F2ED"/>
<ellipse transform="translate(1008.1 632) rotate(96)" rx="9.3" ry="3.3" fill="#FFFFFF"/>
<ellipse transform="translate(1018 633.9) rotate(60)" rx="8.6" ry="3.3" fill="#FFFFFF"/>
<ellipse transform="translate(1030.9 630.5) rotate(45)" rx="9.1" ry="3.7" fill="#FFFFFF"/>
<ellipse transform="translate(1037.8 630) rotate(22)" rx="8.8" ry="3.4" fill="#F4F2ED"/>
<ellipse transform="translate(825.9 643.1) rotate(176)" rx="8.9" ry="3.5" fill="#F4F2ED"/>
<ellipse transform="translate(837.2 640) rotate(18)" rx="9.2" ry="3.3" fill="#FFFFFF"/>
<ellipse transform="translate(845.9 639.6) rotate(32)" rx="9.5" ry="3.5" fill="#FDFCF9"/>
<ellipse transform="translate(855.6 641.7) rotate(49)" rx="8.5" ry="3.2" fill="#F4F2ED"/>
<ellipse transform="translate(873.3 641.9) rotate(126)" rx="9.3" ry="3.7" fill="#F4F2ED"/>
<ellipse transform="translate(878.4 644.1) rotate(88)" rx="9.0" ry="3.5" fill="#FFFFFF"/>
<ellipse transform="translate(894.6 642) rotate(84)" rx="9.5" ry="3.8" fill="#F4F2ED"/>
<ellipse transform="translate(902.6 639.3) rotate(9)" rx="8.6" ry="3.5" fill="#F4F2ED"/>
<ellipse transform="translate(917.1 641.3) rotate(148)" rx="8.6" ry="3.3" fill="#FDFCF9"/>
<ellipse transform="translate(924.3 638.5) rotate(113)" rx="8.3" ry="3.5" fill="#FFFFFF"/>
<ellipse transform="translate(932.9 639) rotate(101)" rx="9.3" ry="3.4" fill="#F4F2ED"/>
<ellipse transform="translate(945.6 645) rotate(21)" rx="8.2" ry="3.5" fill="#FFFFFF"/>
<ellipse transform="translate(959.9 642.2) rotate(142)" rx="8.8" ry="3.8" fill="#F4F2ED"/>
<ellipse transform="translate(967.1 641.7) rotate(81)" rx="8.8" ry="3.4" fill="#FDFCF9"/>
<ellipse transform="translate(979.6 644) rotate(178)" rx="8.3" ry="3.6" fill="#FDFCF9"/>
<ellipse transform="translate(989.6 642.3) rotate(110)" rx="9.3" ry="3.3" fill="#F4F2ED"/>
<ellipse transform="translate(1003.7 644.6) rotate(37)" rx="9.2" ry="3.2" fill="#FDFCF9"/>
<ellipse transform="translate(1011 642.6) rotate(28)" rx="9.0" ry="3.6" fill="#FFFFFF"/>
<ellipse transform="translate(1021.7 638.5) rotate(0)" rx="8.3" ry="3.7" fill="#F4F2ED"/>
<ellipse transform="translate(821.9 652.3) rotate(82)" rx="9.0" ry="3.3" fill="#FFFFFF"/>
<ellipse transform="translate(832.8 653.8) rotate(142)" rx="9.3" ry="3.4" fill="#FFFFFF"/>
<ellipse transform="translate(843.4 652) rotate(168)" rx="8.3" ry="3.3" fill="#F4F2ED"/>
<ellipse transform="translate(853 651.2) rotate(117)" rx="8.2" ry="3.8" fill="#FDFCF9"/>
<ellipse transform="translate(867.4 653.1) rotate(13)" rx="9.4" ry="3.6" fill="#F4F2ED"/>
<ellipse transform="translate(873.2 649.5) rotate(135)" rx="8.3" ry="3.7" fill="#F4F2ED"/>
<ellipse transform="translate(887 649.4) rotate(22)" rx="8.5" ry="3.4" fill="#FDFCF9"/>
<ellipse transform="translate(898.8 652.2) rotate(170)" rx="8.8" ry="3.4" fill="#FDFCF9"/>
<ellipse transform="translate(908.5 650.8) rotate(14)" rx="8.5" ry="3.7" fill="#FDFCF9"/>
<ellipse transform="translate(916.3 650.4) rotate(58)" rx="8.1" ry="3.8" fill="#FDFCF9"/>
<ellipse transform="translate(928.8 648) rotate(173)" rx="9.1" ry="3.4" fill="#FFFFFF"/>
<ellipse transform="translate(943.9 651.4) rotate(171)" rx="8.6" ry="3.4" fill="#F4F2ED"/>
<ellipse transform="translate(956 652.1) rotate(49)" rx="9.3" ry="3.6" fill="#FFFFFF"/>
<ellipse transform="translate(960.3 652.6) rotate(85)" rx="8.4" ry="3.8" fill="#F4F2ED"/>
<ellipse transform="translate(975.6 653.8) rotate(33)" rx="9.1" ry="3.4" fill="#FFFFFF"/>
<ellipse transform="translate(986.1 651.8) rotate(89)" rx="8.5" ry="3.4" fill="#FFFFFF"/>
<ellipse transform="translate(993.6 649.8) rotate(60)" rx="8.7" ry="3.6" fill="#F4F2ED"/>
<ellipse transform="translate(1008.7 653.4) rotate(59)" rx="8.5" ry="3.7" fill="#FDFCF9"/>
<ellipse transform="translate(1019.9 649.4) rotate(170)" rx="9.4" ry="3.6" fill="#FDFCF9"/>
<ellipse transform="translate(829.4 661.3) rotate(98)" rx="8.7" ry="3.6" fill="#FDFCF9"/>
<ellipse transform="translate(836.4 658) rotate(65)" rx="8.3" ry="3.6" fill="#FDFCF9"/>
<ellipse transform="translate(849.8 661.1) rotate(137)" rx="8.3" ry="3.7" fill="#F4F2ED"/>
<ellipse transform="translate(856.9 660.5) rotate(167)" rx="9.4" ry="3.5" fill="#FFFFFF"/>
<ellipse transform="translate(869.6 661.6) rotate(22)" rx="9.4" ry="3.6" fill="#FFFFFF"/>
<ellipse transform="translate(884.3 661) rotate(43)" rx="8.6" ry="3.7" fill="#FFFFFF"/>
<ellipse transform="translate(889.6 660.6) rotate(99)" rx="8.1" ry="3.3" fill="#FFFFFF"/>
<ellipse transform="translate(900.2 663.6) rotate(164)" rx="8.8" ry="3.4" fill="#F4F2ED"/>
<ellipse transform="translate(913.7 657.5) rotate(150)" rx="9.0" ry="3.8" fill="#FDFCF9"/>
<ellipse transform="translate(925 661.7) rotate(92)" rx="9.0" ry="3.2" fill="#F4F2ED"/>
<ellipse transform="translate(934.4 662.5) rotate(176)" rx="8.8" ry="3.2" fill="#F4F2ED"/>
<ellipse transform="translate(945.2 660.6) rotate(69)" rx="9.1" ry="3.5" fill="#FDFCF9"/>
<ellipse transform="translate(961 660.3) rotate(158)" rx="8.0" ry="3.7" fill="#F4F2ED"/>
<ellipse transform="translate(971.5 658.6) rotate(142)" rx="8.6" ry="3.8" fill="#FFFFFF"/>
<ellipse transform="translate(979.4 663.2) rotate(91)" rx="8.2" ry="3.3" fill="#FFFFFF"/>
<ellipse transform="translate(993.2 658.7) rotate(54)" rx="8.4" ry="3.6" fill="#FDFCF9"/>
<ellipse transform="translate(1002.6 663.7) rotate(88)" rx="9.2" ry="3.4" fill="#FDFCF9"/>
<ellipse transform="translate(1010.5 660.5) rotate(62)" rx="8.1" ry="3.8" fill="#FDFCF9"/>
<ellipse transform="translate(821 667.7) rotate(140)" rx="8.8" ry="3.8" fill="#FFFFFF"/>
<ellipse transform="translate(828.3 671.3) rotate(127)" rx="8.4" ry="3.7" fill="#FFFFFF"/>
<ellipse transform="translate(844.7 668.8) rotate(119)" rx="9.0" ry="3.7" fill="#FFFFFF"/>
<ellipse transform="translate(855.7 672.9) rotate(89)" rx="8.1" ry="3.4" fill="#F4F2ED"/>
<ellipse transform="translate(861.3 669.6) rotate(106)" rx="8.7" ry="3.6" fill="#F4F2ED"/>
<ellipse transform="translate(878.1 672.2) rotate(79)" rx="8.3" ry="3.5" fill="#FDFCF9"/>
<ellipse transform="translate(886.7 669.2) rotate(130)" rx="9.0" ry="3.4" fill="#FFFFFF"/>
<ellipse transform="translate(896.9 670.6) rotate(28)" rx="9.3" ry="3.8" fill="#FFFFFF"/>
<ellipse transform="translate(908.3 672.8) rotate(61)" rx="8.3" ry="3.7" fill="#F4F2ED"/>
<ellipse transform="translate(920.8 670.6) rotate(153)" rx="8.7" ry="3.2" fill="#FFFFFF"/>
<ellipse transform="translate(933 672.1) rotate(68)" rx="9.0" ry="3.4" fill="#F4F2ED"/>
<ellipse transform="translate(940.2 671.1) rotate(137)" rx="8.8" ry="3.2" fill="#FDFCF9"/>
<ellipse transform="translate(955.1 666.3) rotate(12)" rx="8.0" ry="3.3" fill="#FFFFFF"/>
<ellipse transform="translate(964.4 672.5) rotate(180)" rx="9.1" ry="3.6" fill="#FDFCF9"/>
<ellipse transform="translate(976.2 669.1) rotate(18)" rx="9.4" ry="3.4" fill="#F4F2ED"/>
<ellipse transform="translate(986.4 672.2) rotate(80)" rx="8.4" ry="3.7" fill="#FDFCF9"/>
<ellipse transform="translate(997.9 672.4) rotate(8)" rx="9.0" ry="3.5" fill="#FDFCF9"/>
<ellipse transform="translate(1009.6 668.1) rotate(67)" rx="9.1" ry="3.3" fill="#F4F2ED"/>
<ellipse transform="translate(823.5 678.6) rotate(46)" rx="9.1" ry="3.5" fill="#FDFCF9"/>
<ellipse transform="translate(835.3 675.5) rotate(145)" rx="8.1" ry="3.5" fill="#FFFFFF"/>
<ellipse transform="translate(850.8 680.1) rotate(28)" rx="8.5" ry="3.7" fill="#F4F2ED"/>
<ellipse transform="translate(858.6 677.8) rotate(106)" rx="8.6" ry="3.7" fill="#FFFFFF"/>
<ellipse transform="translate(871 678.4) rotate(45)" rx="9.0" ry="3.7" fill="#FDFCF9"/>
<ellipse transform="translate(883.4 676.8) rotate(69)" rx="8.7" ry="3.4" fill="#FDFCF9"/>
<ellipse transform="translate(891.9 677.1) rotate(103)" rx="8.6" ry="3.6" fill="#F4F2ED"/>
<ellipse transform="translate(903.5 682.3) rotate(53)" rx="8.6" ry="3.7" fill="#FDFCF9"/>
<ellipse transform="translate(917.3 680) rotate(49)" rx="9.2" ry="3.6" fill="#FFFFFF"/>
<ellipse transform="translate(925.5 680.2) rotate(134)" rx="8.4" ry="3.4" fill="#F4F2ED"/>
<ellipse transform="translate(932.8 679.6) rotate(89)" rx="8.2" ry="3.4" fill="#FDFCF9"/>
<ellipse transform="translate(949.8 677.4) rotate(144)" rx="8.2" ry="3.2" fill="#FDFCF9"/>
<ellipse transform="translate(958.7 677.9) rotate(115)" rx="8.7" ry="3.7" fill="#FFFFFF"/>
<ellipse transform="translate(969.8 680.1) rotate(130)" rx="8.2" ry="3.3" fill="#FDFCF9"/>
<ellipse transform="translate(981.1 681.3) rotate(113)" rx="8.8" ry="3.5" fill="#FFFFFF"/>
<ellipse transform="translate(993.8 679.9) rotate(56)" rx="8.0" ry="3.4" fill="#FFFFFF"/>
<ellipse transform="translate(1001.6 679.5) rotate(132)" rx="8.9" ry="3.7" fill="#FDFCF9"/>
<ellipse transform="translate(1010.1 677.5) rotate(135)" rx="8.0" ry="3.4" fill="#FFFFFF"/>
<ellipse transform="translate(822.8 686.5) rotate(148)" rx="9.1" ry="3.5" fill="#FFFFFF"/>
<ellipse transform="translate(831.4 690.4) rotate(134)" rx="8.9" ry="3.3" fill="#FDFCF9"/>
<ellipse transform="translate(841.4 685.6) rotate(173)" rx="8.3" ry="3.4" fill="#FDFCF9"/>
<ellipse transform="translate(851 691.5) rotate(155)" rx="8.7" ry="3.2" fill="#FDFCF9"/>
<ellipse transform="translate(866.1 691.6) rotate(174)" rx="8.4" ry="3.4" fill="#FFFFFF"/>
<ellipse transform="translate(877.6 687.3) rotate(142)" rx="8.5" ry="3.8" fill="#F4F2ED"/>
<ellipse transform="translate(883.1 688.5) rotate(82)" rx="8.9" ry="3.6" fill="#FFFFFF"/>
<ellipse transform="translate(898.7 689.5) rotate(105)" rx="8.7" ry="3.3" fill="#FFFFFF"/>
<ellipse transform="translate(910.8 691.3) rotate(20)" rx="9.4" ry="3.4" fill="#F4F2ED"/>
<ellipse transform="translate(917.6 684.9) rotate(159)" rx="8.6" ry="3.7" fill="#FDFCF9"/>
<ellipse transform="translate(930.9 691.2) rotate(40)" rx="8.5" ry="3.7" fill="#F4F2ED"/>
<ellipse transform="translate(938.4 690.5) rotate(164)" rx="9.5" ry="3.3" fill="#FDFCF9"/>
<ellipse transform="translate(951.1 687.6) rotate(25)" rx="8.9" ry="3.6" fill="#FDFCF9"/>
<ellipse transform="translate(966.6 686.9) rotate(89)" rx="8.5" ry="3.8" fill="#FDFCF9"/>
<ellipse transform="translate(971.7 691) rotate(24)" rx="8.4" ry="3.6" fill="#FDFCF9"/>
<ellipse transform="translate(985.2 689.4) rotate(134)" rx="9.5" ry="3.7" fill="#FDFCF9"/>
<ellipse transform="translate(999.6 687.7) rotate(134)" rx="8.6" ry="3.7" fill="#FDFCF9"/>
<ellipse transform="translate(1005.1 687.7) rotate(18)" rx="8.5" ry="3.8" fill="#FFFFFF"/>
<ellipse transform="translate(826.3 700.9) rotate(65)" rx="8.9" ry="3.5" fill="#F4F2ED"/>
<ellipse transform="translate(836.3 695.4) rotate(22)" rx="9.2" ry="3.2" fill="#F4F2ED"/>
<ellipse transform="translate(850.4 697.3) rotate(119)" rx="8.7" ry="3.6" fill="#FDFCF9"/>
<ellipse transform="translate(860 698.3) rotate(4)" rx="9.2" ry="3.7" fill="#FFFFFF"/>
<ellipse transform="translate(872 695.8) rotate(23)" rx="9.2" ry="3.7" fill="#FDFCF9"/>
<ellipse transform="translate(881.5 694.6) rotate(138)" rx="9.0" ry="3.3" fill="#FDFCF9"/>
<ellipse transform="translate(890 695.6) rotate(157)" rx="8.4" ry="3.6" fill="#F4F2ED"/>
<ellipse transform="translate(901.8 695.1) rotate(162)" rx="8.6" ry="3.4" fill="#FDFCF9"/>
<ellipse transform="translate(910.5 700.1) rotate(26)" rx="9.5" ry="3.5" fill="#FDFCF9"/>
<ellipse transform="translate(922.4 695.9) rotate(31)" rx="8.8" ry="3.8" fill="#F4F2ED"/>
<ellipse transform="translate(937.1 694.3) rotate(3)" rx="8.6" ry="3.2" fill="#FDFCF9"/>
<ellipse transform="translate(949 695.8) rotate(58)" rx="9.1" ry="3.7" fill="#F4F2ED"/>
<ellipse transform="translate(955.7 694.5) rotate(134)" rx="9.0" ry="3.3" fill="#FFFFFF"/>
<ellipse transform="translate(969.2 699.3) rotate(86)" rx="9.0" ry="3.4" fill="#F4F2ED"/>
<ellipse transform="translate(981.9 697.7) rotate(20)" rx="8.9" ry="3.5" fill="#F4F2ED"/>
<ellipse transform="translate(991 700.7) rotate(8)" rx="9.0" ry="3.4" fill="#FDFCF9"/>
<ellipse transform="translate(823.4 704) rotate(15)" rx="9.4" ry="3.5" fill="#FFFFFF"/>
<ellipse transform="translate(832.3 703.9) rotate(50)" rx="8.1" ry="3.3" fill="#F4F2ED"/>
<ellipse transform="translate(843.4 707.3) rotate(59)" rx="8.8" ry="3.5" fill="#F4F2ED"/>
<ellipse transform="translate(857 707.2) rotate(82)" rx="8.3" ry="3.4" fill="#FDFCF9"/>
<ellipse transform="translate(865.2 704.1) rotate(126)" rx="9.2" ry="3.6" fill="#F4F2ED"/>
<ellipse transform="translate(878 708) rotate(138)" rx="8.2" ry="3.8" fill="#FDFCF9"/>
<ellipse transform="translate(888 705) rotate(81)" rx="8.2" ry="3.4" fill="#FFFFFF"/>
<ellipse transform="translate(895.6 705.8) rotate(82)" rx="8.2" ry="3.8" fill="#FFFFFF"/>
<ellipse transform="translate(907.9 704.1) rotate(77)" rx="8.5" ry="3.4" fill="#FFFFFF"/>
<ellipse transform="translate(920.7 706.1) rotate(27)" rx="8.8" ry="3.4" fill="#FFFFFF"/>
<ellipse transform="translate(933.5 703.9) rotate(150)" rx="8.7" ry="3.6" fill="#FDFCF9"/>
<ellipse transform="translate(938.7 704.1) rotate(133)" rx="8.1" ry="3.2" fill="#F4F2ED"/>
<ellipse transform="translate(954.7 707.3) rotate(106)" rx="8.2" ry="3.7" fill="#F4F2ED"/>
<ellipse transform="translate(963.9 705.8) rotate(22)" rx="8.2" ry="3.7" fill="#F4F2ED"/>
<ellipse transform="translate(973.5 708.1) rotate(135)" rx="8.4" ry="3.3" fill="#FFFFFF"/>
<ellipse transform="translate(988.1 708.5) rotate(174)" rx="8.5" ry="3.5" fill="#FDFCF9"/>
<ellipse transform="translate(828.2 717.1) rotate(116)" rx="8.3" ry="3.4" fill="#FFFFFF"/>
<ellipse transform="translate(833.7 719.3) rotate(149)" rx="8.3" ry="3.6" fill="#FDFCF9"/>
<ellipse transform="translate(846.4 714.1) rotate(126)" rx="8.0" ry="3.6" fill="#FFFFFF"/>
<ellipse transform="translate(857.7 715.2) rotate(1)" rx="8.7" ry="3.5" fill="#FFFFFF"/>
<ellipse transform="translate(872.6 716.8) rotate(72)" rx="9.1" ry="3.3" fill="#F4F2ED"/>
<ellipse transform="translate(878.5 717.2) rotate(6)" rx="9.2" ry="3.2" fill="#FFFFFF"/>
<ellipse transform="translate(893.7 714.3) rotate(76)" rx="9.2" ry="3.5" fill="#FDFCF9"/>
<ellipse transform="translate(901.9 715.4) rotate(130)" rx="8.5" ry="3.5" fill="#FDFCF9"/>
<ellipse transform="translate(915.9 716.8) rotate(15)" rx="9.0" ry="3.5" fill="#F4F2ED"/>
<ellipse transform="translate(921.9 713.9) rotate(111)" rx="8.5" ry="3.4" fill="#FDFCF9"/>
<ellipse transform="translate(937.2 714.7) rotate(119)" rx="8.9" ry="3.4" fill="#FDFCF9"/>
<ellipse transform="translate(946.9 715.9) rotate(49)" rx="8.9" ry="3.7" fill="#F4F2ED"/>
<ellipse transform="translate(959.8 713.6) rotate(77)" rx="9.2" ry="3.8" fill="#F4F2ED"/>
<ellipse transform="translate(967.5 717.5) rotate(88)" rx="8.1" ry="3.3" fill="#FFFFFF"/>
<ellipse transform="translate(981.2 713.1) rotate(71)" rx="8.4" ry="3.3" fill="#FDFCF9"/>
<ellipse transform="translate(820.5 728) rotate(145)" rx="9.0" ry="3.5" fill="#FDFCF9"/>
<ellipse transform="translate(828.5 728.2) rotate(8)" rx="8.9" ry="3.5" fill="#FDFCF9"/>
<ellipse transform="translate(839.1 728.6) rotate(155)" rx="8.3" ry="3.6" fill="#F4F2ED"/>
<ellipse transform="translate(854 726.2) rotate(128)" rx="9.4" ry="3.8" fill="#FFFFFF"/>
<ellipse transform="translate(863.9 723) rotate(4)" rx="8.8" ry="3.5" fill="#FFFFFF"/>
<ellipse transform="translate(874.3 727.8) rotate(111)" rx="8.3" ry="3.7" fill="#F4F2ED"/>
<ellipse transform="translate(888.8 728.6) rotate(16)" rx="8.1" ry="3.4" fill="#FFFFFF"/>
<ellipse transform="translate(899.9 723.9) rotate(106)" rx="8.7" ry="3.3" fill="#FDFCF9"/>
<ellipse transform="translate(908.7 724.9) rotate(56)" rx="9.4" ry="3.5" fill="#FDFCF9"/>
<ellipse transform="translate(918.4 724.5) rotate(30)" rx="8.6" ry="3.5" fill="#F4F2ED"/>
<ellipse transform="translate(930.6 722.9) rotate(92)" rx="9.3" ry="3.5" fill="#FFFFFF"/>
<ellipse transform="translate(944.3 724.6) rotate(131)" rx="8.8" ry="3.7" fill="#FFFFFF"/>
<ellipse transform="translate(954.7 727.9) rotate(43)" rx="8.4" ry="3.4" fill="#F4F2ED"/>
<ellipse transform="translate(961 723.5) rotate(108)" rx="8.4" ry="3.7" fill="#F4F2ED"/>
<ellipse transform="translate(824.4 731.9) rotate(91)" rx="9.1" ry="3.7" fill="#F4F2ED"/>
<ellipse transform="translate(835.7 734.7) rotate(10)" rx="8.8" ry="3.5" fill="#FDFCF9"/>
<ellipse transform="translate(850.3 732) rotate(156)" rx="9.2" ry="3.7" fill="#FDFCF9"/>
<ellipse transform="translate(861.5 735.8) rotate(91)" rx="8.8" ry="3.7" fill="#F4F2ED"/>
<ellipse transform="translate(869.7 735.4) rotate(143)" rx="8.7" ry="3.3" fill="#FDFCF9"/>
<ellipse transform="translate(883.8 734.6) rotate(146)" rx="8.2" ry="3.7" fill="#FFFFFF"/>
<ellipse transform="translate(893.1 733.8) rotate(86)" rx="8.4" ry="3.8" fill="#FDFCF9"/>
<ellipse transform="translate(900.6 731.9) rotate(19)" rx="8.4" ry="3.7" fill="#FFFFFF"/>
<ellipse transform="translate(916.8 733.9) rotate(129)" rx="8.7" ry="3.8" fill="#FFFFFF"/>
<ellipse transform="translate(925 732.7) rotate(45)" rx="8.3" ry="3.6" fill="#F4F2ED"/>
<ellipse transform="translate(935.6 734.6) rotate(94)" rx="8.5" ry="3.6" fill="#F4F2ED"/>
<ellipse transform="translate(944.6 734.1) rotate(51)" rx="8.6" ry="3.6" fill="#FFFFFF"/>
<ellipse transform="translate(957.4 733.9) rotate(108)" rx="9.2" ry="3.7" fill="#F4F2ED"/>
<ellipse transform="translate(834.6 743) rotate(68)" rx="8.5" ry="3.4" fill="#F4F2ED"/>
<ellipse transform="translate(844.5 746.5) rotate(121)" rx="8.3" ry="3.8" fill="#FDFCF9"/>
<ellipse transform="translate(855.8 746) rotate(123)" rx="8.4" ry="3.4" fill="#F4F2ED"/>
<ellipse transform="translate(864.7 745.4) rotate(76)" rx="9.5" ry="3.6" fill="#FFFFFF"/>
<ellipse transform="translate(874.5 743.4) rotate(32)" rx="8.2" ry="3.7" fill="#FDFCF9"/>
<ellipse transform="translate(884.5 747.5) rotate(88)" rx="9.4" ry="3.8" fill="#F4F2ED"/>
<ellipse transform="translate(895.6 741.8) rotate(14)" rx="8.2" ry="3.7" fill="#FFFFFF"/>
<ellipse transform="translate(910.9 741.6) rotate(139)" rx="8.2" ry="3.4" fill="#FFFFFF"/>
<ellipse transform="translate(921.8 747) rotate(7)" rx="9.1" ry="3.6" fill="#FDFCF9"/>
<ellipse transform="translate(929.4 746.2) rotate(24)" rx="8.2" ry="3.6" fill="#F4F2ED"/>
<ellipse transform="translate(940.6 742) rotate(150)" rx="8.6" ry="3.5" fill="#F4F2ED"/>
<ellipse transform="translate(839.2 755.8) rotate(25)" rx="9.2" ry="3.7" fill="#FDFCF9"/>
<ellipse transform="translate(846.3 754.7) rotate(157)" rx="8.8" ry="3.4" fill="#FDFCF9"/>
<ellipse transform="translate(859.4 750.9) rotate(152)" rx="8.7" ry="3.5" fill="#F4F2ED"/>
<ellipse transform="translate(872.5 752.2) rotate(137)" rx="8.0" ry="3.7" fill="#F4F2ED"/>
<ellipse transform="translate(879.4 756.5) rotate(27)" rx="8.1" ry="3.8" fill="#F4F2ED"/>
<ellipse transform="translate(891.6 756.8) rotate(40)" rx="9.0" ry="3.4" fill="#FFFFFF"/>
<ellipse transform="translate(902.7 752.6) rotate(5)" rx="9.2" ry="3.4" fill="#FDFCF9"/>
<ellipse transform="translate(910.9 753.7) rotate(42)" rx="9.2" ry="3.5" fill="#FDFCF9"/>
<ellipse transform="translate(928.5 752.8) rotate(5)" rx="9.2" ry="3.4" fill="#F4F2ED"/>
<ellipse transform="translate(831.2 760.3) rotate(163)" rx="8.2" ry="3.7" fill="#FDFCF9"/>
<ellipse transform="translate(843.2 759.7) rotate(93)" rx="9.3" ry="3.7" fill="#FFFFFF"/>
<ellipse transform="translate(851.7 760.6) rotate(77)" rx="8.1" ry="3.7" fill="#FDFCF9"/>
<ellipse transform="translate(865.3 761.2) rotate(75)" rx="8.0" ry="3.8" fill="#FFFFFF"/>
<ellipse transform="translate(876.7 760.1) rotate(175)" rx="8.7" ry="3.2" fill="#FDFCF9"/>
<ellipse transform="translate(883.5 763.2) rotate(91)" rx="8.3" ry="3.6" fill="#FFFFFF"/>
<ellipse transform="translate(900.9 763.4) rotate(70)" rx="9.3" ry="3.4" fill="#FDFCF9"/>
<ellipse transform="translate(845.8 771.4) rotate(141)" rx="8.1" ry="3.4" fill="#FFFFFF"/>
<ellipse transform="translate(861.6 771.2) rotate(22)" rx="8.6" ry="3.7" fill="#FFFFFF"/>
<path transform="translate(893.1 549.3) rotate(93)" d="M-10.2,0C-6.1,-4.8 6.1,-4.8 10.2,0C6.1,4.8 -6.1,4.8 -10.2,0Z" fill="#FEFDFA" stroke="#968C7B" stroke-width="1.0" stroke-opacity="0.85"/>
<path transform="translate(967 550.7) rotate(86)" d="M-9.3,0C-5.6,-4.6 5.6,-4.6 9.3,0C5.6,4.6 -5.6,4.6 -9.3,0Z" fill="#FEFDFA" stroke="#968C7B" stroke-width="1.0" stroke-opacity="0.85"/>
<path transform="translate(1020.7 559.2) rotate(152)" d="M-10.2,0C-6.1,-4.9 6.1,-4.9 10.2,0C6.1,4.9 -6.1,4.9 -10.2,0Z" fill="#FEFDFA" stroke="#968C7B" stroke-width="1.0" stroke-opacity="0.85"/>
<path transform="translate(925.5 560.6) rotate(131)" d="M-10.0,0C-6.0,-4.5 6.0,-4.5 10.0,0C6.0,4.5 -6.0,4.5 -10.0,0Z" fill="#FEFDFA" stroke="#968C7B" stroke-width="1.0" stroke-opacity="0.85"/>
<path transform="translate(908.7 561.9) rotate(161)" d="M-9.7,0C-5.8,-4.7 5.8,-4.7 9.7,0C5.8,4.7 -5.8,4.7 -9.7,0Z" fill="#FEFDFA" stroke="#968C7B" stroke-width="1.0" stroke-opacity="0.85"/>
<path transform="translate(862.8 563.8) rotate(38)" d="M-9.1,0C-5.5,-4.7 5.5,-4.7 9.1,0C5.5,4.7 -5.5,4.7 -9.1,0Z" fill="#FEFDFA" stroke="#968C7B" stroke-width="1.0" stroke-opacity="0.85"/>
<path transform="translate(949.4 564.9) rotate(142)" d="M-9.5,0C-5.7,-4.9 5.7,-4.9 9.5,0C5.7,4.9 -5.7,4.9 -9.5,0Z" fill="#FEFDFA" stroke="#968C7B" stroke-width="1.0" stroke-opacity="0.85"/>
<path transform="translate(840.5 566.7) rotate(110)" d="M-10.4,0C-6.3,-5.0 6.3,-5.0 10.4,0C6.3,5.0 -6.3,5.0 -10.4,0Z" fill="#FEFDFA" stroke="#968C7B" stroke-width="1.0" stroke-opacity="0.85"/>
<path transform="translate(830.7 567.8) rotate(122)" d="M-10.0,0C-6.0,-5.0 6.0,-5.0 10.0,0C6.0,5.0 -6.0,5.0 -10.0,0Z" fill="#FEFDFA" stroke="#968C7B" stroke-width="1.0" stroke-opacity="0.85"/>
<path transform="translate(969 567.9) rotate(45)" d="M-9.5,0C-5.7,-4.4 5.7,-4.4 9.5,0C5.7,4.4 -5.7,4.4 -9.5,0Z" fill="#FEFDFA" stroke="#968C7B" stroke-width="1.0" stroke-opacity="0.85"/>
<path transform="translate(994.9 568.9) rotate(51)" d="M-9.3,0C-5.6,-4.9 5.6,-4.9 9.3,0C5.6,4.9 -5.6,4.9 -9.3,0Z" fill="#FEFDFA" stroke="#968C7B" stroke-width="1.0" stroke-opacity="0.85"/>
<path transform="translate(892 571.7) rotate(111)" d="M-9.5,0C-5.7,-5.0 5.7,-5.0 9.5,0C5.7,5.0 -5.7,5.0 -9.5,0Z" fill="#FEFDFA" stroke="#968C7B" stroke-width="1.0" stroke-opacity="0.85"/>
<path transform="translate(904.4 576.9) rotate(65)" d="M-10.1,0C-6.0,-4.4 6.0,-4.4 10.1,0C6.0,4.4 -6.0,4.4 -10.1,0Z" fill="#FEFDFA" stroke="#968C7B" stroke-width="1.0" stroke-opacity="0.85"/>
<path transform="translate(984.2 576.9) rotate(39)" d="M-9.7,0C-5.8,-4.7 5.8,-4.7 9.7,0C5.8,4.7 -5.8,4.7 -9.7,0Z" fill="#FEFDFA" stroke="#968C7B" stroke-width="1.0" stroke-opacity="0.85"/>
<path transform="translate(861.1 580.1) rotate(69)" d="M-9.2,0C-5.5,-4.7 5.5,-4.7 9.2,0C5.5,4.7 -5.5,4.7 -9.2,0Z" fill="#FEFDFA" stroke="#968C7B" stroke-width="1.0" stroke-opacity="0.85"/>
<path transform="translate(917.4 582.1) rotate(151)" d="M-10.3,0C-6.2,-4.7 6.2,-4.7 10.3,0C6.2,4.7 -6.2,4.7 -10.3,0Z" fill="#FEFDFA" stroke="#968C7B" stroke-width="1.0" stroke-opacity="0.85"/>
<path transform="translate(1044.9 582.3) rotate(115)" d="M-9.6,0C-5.7,-5.1 5.7,-5.1 9.6,0C5.7,5.1 -5.7,5.1 -9.6,0Z" fill="#FEFDFA" stroke="#968C7B" stroke-width="1.0" stroke-opacity="0.85"/>
<path transform="translate(939.9 584.3) rotate(31)" d="M-10.2,0C-6.1,-4.9 6.1,-4.9 10.2,0C6.1,4.9 -6.1,4.9 -10.2,0Z" fill="#FEFDFA" stroke="#968C7B" stroke-width="1.0" stroke-opacity="0.85"/>
<path transform="translate(874.4 585.6) rotate(13)" d="M-10.1,0C-6.1,-4.6 6.1,-4.6 10.1,0C6.1,4.6 -6.1,4.6 -10.1,0Z" fill="#FEFDFA" stroke="#968C7B" stroke-width="1.0" stroke-opacity="0.85"/>
<path transform="translate(834.5 585.7) rotate(141)" d="M-9.7,0C-5.8,-5.0 5.8,-5.0 9.7,0C5.8,5.0 -5.8,5.0 -9.7,0Z" fill="#FEFDFA" stroke="#968C7B" stroke-width="1.0" stroke-opacity="0.85"/>
<path transform="translate(1022 586.7) rotate(138)" d="M-9.1,0C-5.4,-4.4 5.4,-4.4 9.1,0C5.4,4.4 -5.4,4.4 -9.1,0Z" fill="#FEFDFA" stroke="#968C7B" stroke-width="1.0" stroke-opacity="0.85"/>
<path transform="translate(1009.9 590) rotate(72)" d="M-9.4,0C-5.6,-4.5 5.6,-4.5 9.4,0C5.6,4.5 -5.6,4.5 -9.4,0Z" fill="#FEFDFA" stroke="#968C7B" stroke-width="1.0" stroke-opacity="0.85"/>
<path transform="translate(961.6 590.5) rotate(13)" d="M-9.5,0C-5.7,-5.1 5.7,-5.1 9.5,0C5.7,5.1 -5.7,5.1 -9.5,0Z" fill="#FEFDFA" stroke="#968C7B" stroke-width="1.0" stroke-opacity="0.85"/>
<path transform="translate(986.7 596.5) rotate(2)" d="M-9.2,0C-5.5,-4.4 5.5,-4.4 9.2,0C5.5,4.4 -5.5,4.4 -9.2,0Z" fill="#FEFDFA" stroke="#968C7B" stroke-width="1.0" stroke-opacity="0.85"/>
<path transform="translate(826 596.7) rotate(15)" d="M-10.4,0C-6.2,-5.2 6.2,-5.2 10.4,0C6.2,5.2 -6.2,5.2 -10.4,0Z" fill="#FEFDFA" stroke="#968C7B" stroke-width="1.0" stroke-opacity="0.85"/>
<path transform="translate(926.8 598) rotate(166)" d="M-9.5,0C-5.7,-5.2 5.7,-5.2 9.5,0C5.7,5.2 -5.7,5.2 -9.5,0Z" fill="#FEFDFA" stroke="#968C7B" stroke-width="1.0" stroke-opacity="0.85"/>
<path transform="translate(1040 598.2) rotate(67)" d="M-10.3,0C-6.2,-5.0 6.2,-5.0 10.3,0C6.2,5.0 -6.2,5.0 -10.3,0Z" fill="#FEFDFA" stroke="#968C7B" stroke-width="1.0" stroke-opacity="0.85"/>
<path transform="translate(862.7 599.1) rotate(106)" d="M-9.6,0C-5.8,-4.9 5.8,-4.9 9.6,0C5.8,4.9 -5.8,4.9 -9.6,0Z" fill="#FEFDFA" stroke="#968C7B" stroke-width="1.0" stroke-opacity="0.85"/>
<path transform="translate(1014.4 599.4) rotate(93)" d="M-9.9,0C-5.9,-4.7 5.9,-4.7 9.9,0C5.9,4.7 -5.9,4.7 -9.9,0Z" fill="#FEFDFA" stroke="#968C7B" stroke-width="1.0" stroke-opacity="0.85"/>
<path transform="translate(906.8 600.7) rotate(172)" d="M-9.1,0C-5.4,-4.7 5.4,-4.7 9.1,0C5.4,4.7 -5.4,4.7 -9.1,0Z" fill="#FEFDFA" stroke="#968C7B" stroke-width="1.0" stroke-opacity="0.85"/>
<path transform="translate(946.1 603.1) rotate(10)" d="M-10.5,0C-6.3,-4.7 6.3,-4.7 10.5,0C6.3,4.7 -6.3,4.7 -10.5,0Z" fill="#FEFDFA" stroke="#968C7B" stroke-width="1.0" stroke-opacity="0.85"/>
<path transform="translate(892.2 603.6) rotate(116)" d="M-9.8,0C-5.9,-5.1 5.9,-5.1 9.8,0C5.9,5.1 -5.9,5.1 -9.8,0Z" fill="#FEFDFA" stroke="#968C7B" stroke-width="1.0" stroke-opacity="0.85"/>
<path transform="translate(974.8 603.8) rotate(32)" d="M-9.8,0C-5.9,-4.9 5.9,-4.9 9.8,0C5.9,4.9 -5.9,4.9 -9.8,0Z" fill="#FEFDFA" stroke="#968C7B" stroke-width="1.0" stroke-opacity="0.85"/>
<path transform="translate(840.6 607.4) rotate(175)" d="M-9.4,0C-5.7,-4.5 5.7,-4.5 9.4,0C5.7,4.5 -5.7,4.5 -9.4,0Z" fill="#FEFDFA" stroke="#968C7B" stroke-width="1.0" stroke-opacity="0.85"/>
<path transform="translate(965.4 612.4) rotate(155)" d="M-9.6,0C-5.8,-4.8 5.8,-4.8 9.6,0C5.8,4.8 -5.8,4.8 -9.6,0Z" fill="#FEFDFA" stroke="#968C7B" stroke-width="1.0" stroke-opacity="0.85"/>
<path transform="translate(976.2 613) rotate(66)" d="M-9.7,0C-5.8,-4.4 5.8,-4.4 9.7,0C5.8,4.4 -5.8,4.4 -9.7,0Z" fill="#FEFDFA" stroke="#968C7B" stroke-width="1.0" stroke-opacity="0.85"/>
<path transform="translate(899.2 613.2) rotate(155)" d="M-9.0,0C-5.4,-4.5 5.4,-4.5 9.0,0C5.4,4.5 -5.4,4.5 -9.0,0Z" fill="#FEFDFA" stroke="#968C7B" stroke-width="1.0" stroke-opacity="0.85"/>
<path transform="translate(915.3 614.6) rotate(139)" d="M-10.2,0C-6.1,-4.9 6.1,-4.9 10.2,0C6.1,4.9 -6.1,4.9 -10.2,0Z" fill="#FEFDFA" stroke="#968C7B" stroke-width="1.0" stroke-opacity="0.85"/>
<path transform="translate(1009.9 614.9) rotate(173)" d="M-9.7,0C-5.8,-4.5 5.8,-4.5 9.7,0C5.8,4.5 -5.8,4.5 -9.7,0Z" fill="#FEFDFA" stroke="#968C7B" stroke-width="1.0" stroke-opacity="0.85"/>
<path transform="translate(856 619.7) rotate(47)" d="M-9.3,0C-5.6,-4.9 5.6,-4.9 9.3,0C5.6,4.9 -5.6,4.9 -9.3,0Z" fill="#FEFDFA" stroke="#968C7B" stroke-width="1.0" stroke-opacity="0.85"/>
<path transform="translate(884.7 621.2) rotate(89)" d="M-10.5,0C-6.3,-4.8 6.3,-4.8 10.5,0C6.3,4.8 -6.3,4.8 -10.5,0Z" fill="#FEFDFA" stroke="#968C7B" stroke-width="1.0" stroke-opacity="0.85"/>
<path transform="translate(946.5 621.8) rotate(21)" d="M-9.2,0C-5.5,-5.0 5.5,-5.0 9.2,0C5.5,5.0 -5.5,5.0 -9.2,0Z" fill="#FEFDFA" stroke="#968C7B" stroke-width="1.0" stroke-opacity="0.85"/>
<path transform="translate(1018.5 623.6) rotate(129)" d="M-9.7,0C-5.8,-5.1 5.8,-5.1 9.7,0C5.8,5.1 -5.8,5.1 -9.7,0Z" fill="#FEFDFA" stroke="#968C7B" stroke-width="1.0" stroke-opacity="0.85"/>
<path transform="translate(818.5 624.6) rotate(132)" d="M-9.4,0C-5.6,-4.9 5.6,-4.9 9.4,0C5.6,4.9 -5.6,4.9 -9.4,0Z" fill="#FEFDFA" stroke="#968C7B" stroke-width="1.0" stroke-opacity="0.85"/>
<path transform="translate(830.7 625) rotate(60)" d="M-9.6,0C-5.7,-4.7 5.7,-4.7 9.6,0C5.7,4.7 -5.7,4.7 -9.6,0Z" fill="#FEFDFA" stroke="#968C7B" stroke-width="1.0" stroke-opacity="0.85"/>
<path transform="translate(888.7 630.9) rotate(72)" d="M-9.6,0C-5.7,-4.5 5.7,-4.5 9.6,0C5.7,4.5 -5.7,4.5 -9.6,0Z" fill="#FEFDFA" stroke="#968C7B" stroke-width="1.0" stroke-opacity="0.85"/>
<path transform="translate(869.9 631) rotate(40)" d="M-9.1,0C-5.4,-4.7 5.4,-4.7 9.1,0C5.4,4.7 -5.4,4.7 -9.1,0Z" fill="#FEFDFA" stroke="#968C7B" stroke-width="1.0" stroke-opacity="0.85"/>
<path transform="translate(927.8 631.5) rotate(82)" d="M-9.4,0C-5.6,-5.1 5.6,-5.1 9.4,0C5.6,5.1 -5.6,5.1 -9.4,0Z" fill="#FEFDFA" stroke="#968C7B" stroke-width="1.0" stroke-opacity="0.85"/>
<path transform="translate(975.9 633.6) rotate(66)" d="M-9.8,0C-5.9,-4.5 5.9,-4.5 9.8,0C5.9,4.5 -5.9,4.5 -9.8,0Z" fill="#FEFDFA" stroke="#968C7B" stroke-width="1.0" stroke-opacity="0.85"/>
<path transform="translate(949.7 634.3) rotate(141)" d="M-10.0,0C-6.0,-4.5 6.0,-4.5 10.0,0C6.0,4.5 -6.0,4.5 -10.0,0Z" fill="#FEFDFA" stroke="#968C7B" stroke-width="1.0" stroke-opacity="0.85"/>
<path transform="translate(1017.8 637.9) rotate(143)" d="M-10.0,0C-6.0,-5.0 6.0,-5.0 10.0,0C6.0,5.0 -6.0,5.0 -10.0,0Z" fill="#FEFDFA" stroke="#968C7B" stroke-width="1.0" stroke-opacity="0.85"/>
<path transform="translate(851.1 638.3) rotate(21)" d="M-9.6,0C-5.8,-5.0 5.8,-5.0 9.6,0C5.8,5.0 -5.8,5.0 -9.6,0Z" fill="#FEFDFA" stroke="#968C7B" stroke-width="1.0" stroke-opacity="0.85"/>
<path transform="translate(914.8 642.4) rotate(139)" d="M-9.3,0C-5.6,-4.4 5.6,-4.4 9.3,0C5.6,4.4 -5.6,4.4 -9.3,0Z" fill="#FEFDFA" stroke="#968C7B" stroke-width="1.0" stroke-opacity="0.85"/>
<path transform="translate(822 643.1) rotate(58)" d="M-9.6,0C-5.7,-4.8 5.7,-4.8 9.6,0C5.7,4.8 -5.7,4.8 -9.6,0Z" fill="#FEFDFA" stroke="#968C7B" stroke-width="1.0" stroke-opacity="0.85"/>
<path transform="translate(1030.6 643.3) rotate(4)" d="M-10.4,0C-6.3,-4.9 6.3,-4.9 10.4,0C6.3,4.9 -6.3,4.9 -10.4,0Z" fill="#FEFDFA" stroke="#968C7B" stroke-width="1.0" stroke-opacity="0.85"/>
<path transform="translate(1000.1 644.2) rotate(140)" d="M-10.4,0C-6.2,-4.8 6.2,-4.8 10.4,0C6.2,4.8 -6.2,4.8 -10.4,0Z" fill="#FEFDFA" stroke="#968C7B" stroke-width="1.0" stroke-opacity="0.85"/>
<path transform="translate(838.7 648.2) rotate(60)" d="M-9.4,0C-5.6,-4.6 5.6,-4.6 9.4,0C5.6,4.6 -5.6,4.6 -9.4,0Z" fill="#FEFDFA" stroke="#968C7B" stroke-width="1.0" stroke-opacity="0.85"/>
<path transform="translate(875.3 651) rotate(177)" d="M-9.6,0C-5.8,-5.1 5.8,-5.1 9.6,0C5.8,5.1 -5.8,5.1 -9.6,0Z" fill="#FEFDFA" stroke="#968C7B" stroke-width="1.0" stroke-opacity="0.85"/>
<path transform="translate(915 652) rotate(8)" d="M-9.1,0C-5.4,-4.8 5.4,-4.8 9.1,0C5.4,4.8 -5.4,4.8 -9.1,0Z" fill="#FEFDFA" stroke="#968C7B" stroke-width="1.0" stroke-opacity="0.85"/>
<path transform="translate(860.6 653.4) rotate(133)" d="M-9.8,0C-5.9,-4.8 5.9,-4.8 9.8,0C5.9,4.8 -5.9,4.8 -9.8,0Z" fill="#FEFDFA" stroke="#968C7B" stroke-width="1.0" stroke-opacity="0.85"/>
<path transform="translate(967.5 654.5) rotate(135)" d="M-10.5,0C-6.3,-4.5 6.3,-4.5 10.5,0C6.3,4.5 -6.3,4.5 -10.5,0Z" fill="#FEFDFA" stroke="#968C7B" stroke-width="1.0" stroke-opacity="0.85"/>
<path transform="translate(984.1 655.2) rotate(115)" d="M-10.4,0C-6.3,-4.7 6.3,-4.7 10.4,0C6.3,4.7 -6.3,4.7 -10.4,0Z" fill="#FEFDFA" stroke="#968C7B" stroke-width="1.0" stroke-opacity="0.85"/>
<path transform="translate(1002.5 656.4) rotate(11)" d="M-10.4,0C-6.3,-4.5 6.3,-4.5 10.4,0C6.3,4.5 -6.3,4.5 -10.4,0Z" fill="#FEFDFA" stroke="#968C7B" stroke-width="1.0" stroke-opacity="0.85"/>
<path transform="translate(937.2 659.9) rotate(74)" d="M-9.3,0C-5.6,-4.5 5.6,-4.5 9.3,0C5.6,4.5 -5.6,4.5 -9.3,0Z" fill="#FEFDFA" stroke="#968C7B" stroke-width="1.0" stroke-opacity="0.85"/>
<path transform="translate(897.9 661.6) rotate(175)" d="M-9.1,0C-5.4,-4.5 5.4,-4.5 9.1,0C5.4,4.5 -5.4,4.5 -9.1,0Z" fill="#FEFDFA" stroke="#968C7B" stroke-width="1.0" stroke-opacity="0.85"/>
<path transform="translate(956.4 667.2) rotate(145)" d="M-10.0,0C-6.0,-4.6 6.0,-4.6 10.0,0C6.0,4.6 -6.0,4.6 -10.0,0Z" fill="#FEFDFA" stroke="#968C7B" stroke-width="1.0" stroke-opacity="0.85"/>
<path transform="translate(883 667.4) rotate(81)" d="M-10.2,0C-6.1,-4.5 6.1,-4.5 10.2,0C6.1,4.5 -6.1,4.5 -10.2,0Z" fill="#FEFDFA" stroke="#968C7B" stroke-width="1.0" stroke-opacity="0.85"/>
<path transform="translate(906.9 667.6) rotate(64)" d="M-9.9,0C-5.9,-4.6 5.9,-4.6 9.9,0C5.9,4.6 -5.9,4.6 -9.9,0Z" fill="#FEFDFA" stroke="#968C7B" stroke-width="1.0" stroke-opacity="0.85"/>
<path transform="translate(873.7 667.9) rotate(139)" d="M-10.1,0C-6.1,-5.0 6.1,-5.0 10.1,0C6.1,5.0 -6.1,5.0 -10.1,0Z" fill="#FEFDFA" stroke="#968C7B" stroke-width="1.0" stroke-opacity="0.85"/>
<path transform="translate(831.5 671.5) rotate(150)" d="M-9.1,0C-5.5,-4.8 5.5,-4.8 9.1,0C5.5,4.8 -5.5,4.8 -9.1,0Z" fill="#FEFDFA" stroke="#968C7B" stroke-width="1.0" stroke-opacity="0.85"/>
<path transform="translate(934.3 672.3) rotate(83)" d="M-9.8,0C-5.9,-5.1 5.9,-5.1 9.8,0C5.9,5.1 -5.9,5.1 -9.8,0Z" fill="#FEFDFA" stroke="#968C7B" stroke-width="1.0" stroke-opacity="0.85"/>
<path transform="translate(844.1 672.3) rotate(42)" d="M-9.8,0C-5.9,-5.1 5.9,-5.1 9.8,0C5.9,5.1 -5.9,5.1 -9.8,0Z" fill="#FEFDFA" stroke="#968C7B" stroke-width="1.0" stroke-opacity="0.85"/>
<path transform="translate(969.8 675.8) rotate(109)" d="M-9.0,0C-5.4,-4.9 5.4,-4.9 9.0,0C5.4,4.9 -5.4,4.9 -9.0,0Z" fill="#FEFDFA" stroke="#968C7B" stroke-width="1.0" stroke-opacity="0.85"/>
<path transform="translate(989.5 677.9) rotate(27)" d="M-9.9,0C-5.9,-5.0 5.9,-5.0 9.9,0C5.9,5.0 -5.9,5.0 -9.9,0Z" fill="#FEFDFA" stroke="#968C7B" stroke-width="1.0" stroke-opacity="0.85"/>
<path transform="translate(967.8 684.8) rotate(179)" d="M-9.2,0C-5.5,-4.5 5.5,-4.5 9.2,0C5.5,4.5 -5.5,4.5 -9.2,0Z" fill="#FEFDFA" stroke="#968C7B" stroke-width="1.0" stroke-opacity="0.85"/>
<path transform="translate(947.1 685) rotate(106)" d="M-9.8,0C-5.9,-4.9 5.9,-4.9 9.8,0C5.9,4.9 -5.9,4.9 -9.8,0Z" fill="#FEFDFA" stroke="#968C7B" stroke-width="1.0" stroke-opacity="0.85"/>
<path transform="translate(915.8 689.4) rotate(124)" d="M-10.4,0C-6.3,-4.5 6.3,-4.5 10.4,0C6.3,4.5 -6.3,4.5 -10.4,0Z" fill="#FEFDFA" stroke="#968C7B" stroke-width="1.0" stroke-opacity="0.85"/>
<path transform="translate(857.8 691.5) rotate(17)" d="M-9.2,0C-5.5,-5.0 5.5,-5.0 9.2,0C5.5,5.0 -5.5,5.0 -9.2,0Z" fill="#FEFDFA" stroke="#968C7B" stroke-width="1.0" stroke-opacity="0.85"/>
<path transform="translate(978.8 692.8) rotate(146)" d="M-10.2,0C-6.1,-5.1 6.1,-5.1 10.2,0C6.1,5.1 -6.1,5.1 -10.2,0Z" fill="#FEFDFA" stroke="#968C7B" stroke-width="1.0" stroke-opacity="0.85"/>
<path transform="translate(892.9 694.7) rotate(40)" d="M-10.3,0C-6.2,-5.1 6.2,-5.1 10.3,0C6.2,5.1 -6.2,5.1 -10.3,0Z" fill="#FEFDFA" stroke="#968C7B" stroke-width="1.0" stroke-opacity="0.85"/>
<path transform="translate(872.4 694.9) rotate(22)" d="M-9.4,0C-5.6,-4.9 5.6,-4.9 9.4,0C5.6,4.9 -5.6,4.9 -9.4,0Z" fill="#FEFDFA" stroke="#968C7B" stroke-width="1.0" stroke-opacity="0.85"/>
<path transform="translate(998.3 695.7) rotate(146)" d="M-9.9,0C-5.9,-4.8 5.9,-4.8 9.9,0C5.9,4.8 -5.9,4.8 -9.9,0Z" fill="#FEFDFA" stroke="#968C7B" stroke-width="1.0" stroke-opacity="0.85"/>
<path transform="translate(831.4 697.1) rotate(154)" d="M-9.3,0C-5.6,-4.7 5.6,-4.7 9.3,0C5.6,4.7 -5.6,4.7 -9.3,0Z" fill="#FEFDFA" stroke="#968C7B" stroke-width="1.0" stroke-opacity="0.85"/>
<path transform="translate(930.2 702.9) rotate(69)" d="M-9.9,0C-6.0,-4.9 6.0,-4.9 9.9,0C6.0,4.9 -6.0,4.9 -9.9,0Z" fill="#FEFDFA" stroke="#968C7B" stroke-width="1.0" stroke-opacity="0.85"/>
<path transform="translate(873.2 705.5) rotate(80)" d="M-9.6,0C-5.8,-4.7 5.8,-4.7 9.6,0C5.8,4.7 -5.8,4.7 -9.6,0Z" fill="#FEFDFA" stroke="#968C7B" stroke-width="1.0" stroke-opacity="0.85"/>
<path transform="translate(986.8 707) rotate(128)" d="M-10.3,0C-6.2,-4.9 6.2,-4.9 10.3,0C6.2,4.9 -6.2,4.9 -10.3,0Z" fill="#FEFDFA" stroke="#968C7B" stroke-width="1.0" stroke-opacity="0.85"/>
<path transform="translate(844.9 707.6) rotate(64)" d="M-9.1,0C-5.4,-4.8 5.4,-4.8 9.1,0C5.4,4.8 -5.4,4.8 -9.1,0Z" fill="#FEFDFA" stroke="#968C7B" stroke-width="1.0" stroke-opacity="0.85"/>
<path transform="translate(911.6 708.6) rotate(159)" d="M-9.4,0C-5.6,-4.7 5.6,-4.7 9.4,0C5.6,4.7 -5.6,4.7 -9.4,0Z" fill="#FEFDFA" stroke="#968C7B" stroke-width="1.0" stroke-opacity="0.85"/>
<path transform="translate(883.6 710.2) rotate(111)" d="M-9.5,0C-5.7,-5.0 5.7,-5.0 9.5,0C5.7,5.0 -5.7,5.0 -9.5,0Z" fill="#FEFDFA" stroke="#968C7B" stroke-width="1.0" stroke-opacity="0.85"/>
<path transform="translate(950.4 710.6) rotate(143)" d="M-9.5,0C-5.7,-5.1 5.7,-5.1 9.5,0C5.7,5.1 -5.7,5.1 -9.5,0Z" fill="#FEFDFA" stroke="#968C7B" stroke-width="1.0" stroke-opacity="0.85"/>
<path transform="translate(824.6 711.8) rotate(89)" d="M-10.3,0C-6.2,-4.9 6.2,-4.9 10.3,0C6.2,4.9 -6.2,4.9 -10.3,0Z" fill="#FEFDFA" stroke="#968C7B" stroke-width="1.0" stroke-opacity="0.85"/>
<path transform="translate(969 715.6) rotate(98)" d="M-10.5,0C-6.3,-4.6 6.3,-4.6 10.5,0C6.3,4.6 -6.3,4.6 -10.5,0Z" fill="#FEFDFA" stroke="#968C7B" stroke-width="1.0" stroke-opacity="0.85"/>
<path transform="translate(895.3 721.7) rotate(45)" d="M-9.5,0C-5.7,-5.0 5.7,-5.0 9.5,0C5.7,5.0 -5.7,5.0 -9.5,0Z" fill="#FEFDFA" stroke="#968C7B" stroke-width="1.0" stroke-opacity="0.85"/>
<path transform="translate(861.3 723.4) rotate(146)" d="M-10.2,0C-6.1,-4.6 6.1,-4.6 10.2,0C6.1,4.6 -6.1,4.6 -10.2,0Z" fill="#FEFDFA" stroke="#968C7B" stroke-width="1.0" stroke-opacity="0.85"/>
<path transform="translate(877.6 724.5) rotate(105)" d="M-10.1,0C-6.1,-4.9 6.1,-4.9 10.1,0C6.1,4.9 -6.1,4.9 -10.1,0Z" fill="#FEFDFA" stroke="#968C7B" stroke-width="1.0" stroke-opacity="0.85"/>
<path transform="translate(916.4 727) rotate(142)" d="M-9.1,0C-5.5,-4.7 5.5,-4.7 9.1,0C5.5,4.7 -5.5,4.7 -9.1,0Z" fill="#FEFDFA" stroke="#968C7B" stroke-width="1.0" stroke-opacity="0.85"/>
<path transform="translate(829.4 727.9) rotate(5)" d="M-10.4,0C-6.2,-4.7 6.2,-4.7 10.4,0C6.2,4.7 -6.2,4.7 -10.4,0Z" fill="#FEFDFA" stroke="#968C7B" stroke-width="1.0" stroke-opacity="0.85"/>
<path transform="translate(944.3 730.2) rotate(171)" d="M-9.7,0C-5.8,-4.8 5.8,-4.8 9.7,0C5.8,4.8 -5.8,4.8 -9.7,0Z" fill="#FEFDFA" stroke="#968C7B" stroke-width="1.0" stroke-opacity="0.85"/>
<path transform="translate(963.1 733.3) rotate(70)" d="M-9.6,0C-5.7,-4.4 5.7,-4.4 9.6,0C5.7,4.4 -5.7,4.4 -9.6,0Z" fill="#FEFDFA" stroke="#968C7B" stroke-width="1.0" stroke-opacity="0.85"/>
<path transform="translate(910.9 737.6) rotate(86)" d="M-10.2,0C-6.1,-4.4 6.1,-4.4 10.2,0C6.1,4.4 -6.1,4.4 -10.2,0Z" fill="#FEFDFA" stroke="#968C7B" stroke-width="1.0" stroke-opacity="0.85"/>
<path transform="translate(884 737.9) rotate(10)" d="M-10.1,0C-6.0,-4.7 6.0,-4.7 10.1,0C6.0,4.7 -6.0,4.7 -10.1,0Z" fill="#FEFDFA" stroke="#968C7B" stroke-width="1.0" stroke-opacity="0.85"/>
<path transform="translate(949.3 739.8) rotate(144)" d="M-10.2,0C-6.1,-4.8 6.1,-4.8 10.2,0C6.1,4.8 -6.1,4.8 -10.2,0Z" fill="#FEFDFA" stroke="#968C7B" stroke-width="1.0" stroke-opacity="0.85"/>
<path transform="translate(828.3 742.3) rotate(102)" d="M-9.9,0C-5.9,-4.5 5.9,-4.5 9.9,0C5.9,4.5 -5.9,4.5 -9.9,0Z" fill="#FEFDFA" stroke="#968C7B" stroke-width="1.0" stroke-opacity="0.85"/>
<path transform="translate(928.1 745.9) rotate(145)" d="M-10.3,0C-6.2,-4.5 6.2,-4.5 10.3,0C6.2,4.5 -6.2,4.5 -10.3,0Z" fill="#FEFDFA" stroke="#968C7B" stroke-width="1.0" stroke-opacity="0.85"/>
<path transform="translate(841.5 750.6) rotate(151)" d="M-9.1,0C-5.5,-4.4 5.5,-4.4 9.1,0C5.5,4.4 -5.5,4.4 -9.1,0Z" fill="#FEFDFA" stroke="#968C7B" stroke-width="1.0" stroke-opacity="0.85"/>
<path transform="translate(871.8 750.9) rotate(98)" d="M-9.1,0C-5.4,-4.7 5.4,-4.7 9.1,0C5.4,4.7 -5.4,4.7 -9.1,0Z" fill="#FEFDFA" stroke="#968C7B" stroke-width="1.0" stroke-opacity="0.85"/>
<path transform="translate(838.3 763.4) rotate(61)" d="M-9.3,0C-5.6,-4.7 5.6,-4.7 9.3,0C5.6,4.7 -5.6,4.7 -9.3,0Z" fill="#FEFDFA" stroke="#968C7B" stroke-width="1.0" stroke-opacity="0.85"/>
<path transform="translate(877.1 764.1) rotate(88)" d="M-9.7,0C-5.8,-4.7 5.8,-4.7 9.7,0C5.8,4.7 -5.8,4.7 -9.7,0Z" fill="#FEFDFA" stroke="#968C7B" stroke-width="1.0" stroke-opacity="0.85"/>
<path transform="translate(854.5 768.9) rotate(132)" d="M-10.4,0C-6.2,-4.9 6.2,-4.9 10.4,0C6.2,4.9 -6.2,4.9 -10.4,0Z" fill="#FEFDFA" stroke="#968C7B" stroke-width="1.0" stroke-opacity="0.85"/>
<path transform="translate(840.4 553.8) rotate(-38)" d="M-8.5,0C-5.1,-4.5 5.1,-4.5 8.5,0C5.1,4.5 -5.1,4.5 -8.5,0Z" fill="#FEFDFA" stroke="#968C7B" stroke-width="1.0" stroke-opacity="0.85"/>
<path transform="translate(863.9 549.9) rotate(-11)" d="M-8.5,0C-5.1,-4.5 5.1,-4.5 8.5,0C5.1,4.5 -5.1,4.5 -8.5,0Z" fill="#FEFDFA" stroke="#968C7B" stroke-width="1.0" stroke-opacity="0.85"/>
<path transform="translate(885.7 548.5) rotate(-3)" d="M-8.5,0C-5.1,-4.5 5.1,-4.5 8.5,0C5.1,4.5 -5.1,4.5 -8.5,0Z" fill="#FEFDFA" stroke="#968C7B" stroke-width="1.0" stroke-opacity="0.85"/>
<path transform="translate(905.8 549.5) rotate(54)" d="M-8.5,0C-5.1,-4.5 5.1,-4.5 8.5,0C5.1,4.5 -5.1,4.5 -8.5,0Z" fill="#FEFDFA" stroke="#968C7B" stroke-width="1.0" stroke-opacity="0.85"/>
<path transform="translate(925.9 550.5) rotate(0)" d="M-8.5,0C-5.1,-4.5 5.1,-4.5 8.5,0C5.1,4.5 -5.1,4.5 -8.5,0Z" fill="#FEFDFA" stroke="#968C7B" stroke-width="1.0" stroke-opacity="0.85"/>
<path transform="translate(948.9 550.2) rotate(2)" d="M-8.5,0C-5.1,-4.5 5.1,-4.5 8.5,0C5.1,4.5 -5.1,4.5 -8.5,0Z" fill="#FEFDFA" stroke="#968C7B" stroke-width="1.0" stroke-opacity="0.85"/>
<path transform="translate(974.6 548.8) rotate(-20)" d="M-8.5,0C-5.1,-4.5 5.1,-4.5 8.5,0C5.1,4.5 -5.1,4.5 -8.5,0Z" fill="#FEFDFA" stroke="#968C7B" stroke-width="1.0" stroke-opacity="0.85"/>
<path transform="translate(999.6 549.5) rotate(44)" d="M-8.5,0C-5.1,-4.5 5.1,-4.5 8.5,0C5.1,4.5 -5.1,4.5 -8.5,0Z" fill="#FEFDFA" stroke="#968C7B" stroke-width="1.0" stroke-opacity="0.85"/>
<path transform="translate(1023.9 552.5) rotate(-19)" d="M-8.5,0C-5.1,-4.5 5.1,-4.5 8.5,0C5.1,4.5 -5.1,4.5 -8.5,0Z" fill="#FEFDFA" stroke="#968C7B" stroke-width="1.0" stroke-opacity="0.85"/>
<path transform="translate(1039.8 565.4) rotate(108)" d="M-8.5,0C-5.1,-4.5 5.1,-4.5 8.5,0C5.1,4.5 -5.1,4.5 -8.5,0Z" fill="#FEFDFA" stroke="#968C7B" stroke-width="1.0" stroke-opacity="0.85"/>
<path transform="translate(1047.2 588.1) rotate(27)" d="M-8.5,0C-5.1,-4.5 5.1,-4.5 8.5,0C5.1,4.5 -5.1,4.5 -8.5,0Z" fill="#FEFDFA" stroke="#968C7B" stroke-width="1.0" stroke-opacity="0.85"/>
<path transform="translate(1045 614.8) rotate(59)" d="M-8.5,0C-5.1,-4.5 5.1,-4.5 8.5,0C5.1,4.5 -5.1,4.5 -8.5,0Z" fill="#FEFDFA" stroke="#968C7B" stroke-width="1.0" stroke-opacity="0.85"/>
<path transform="translate(1033.7 639) rotate(71)" d="M-8.5,0C-5.1,-4.5 5.1,-4.5 8.5,0C5.1,4.5 -5.1,4.5 -8.5,0Z" fill="#FEFDFA" stroke="#968C7B" stroke-width="1.0" stroke-opacity="0.85"/>
<path transform="translate(1023 657) rotate(160)" d="M-8.5,0C-5.1,-4.5 5.1,-4.5 8.5,0C5.1,4.5 -5.1,4.5 -8.5,0Z" fill="#FEFDFA" stroke="#968C7B" stroke-width="1.0" stroke-opacity="0.85"/>
<path transform="translate(1013.2 674.2) rotate(150)" d="M-8.5,0C-5.1,-4.5 5.1,-4.5 8.5,0C5.1,4.5 -5.1,4.5 -8.5,0Z" fill="#FEFDFA" stroke="#968C7B" stroke-width="1.0" stroke-opacity="0.85"/>
<path transform="translate(1004.1 690.8) rotate(87)" d="M-8.5,0C-5.1,-4.5 5.1,-4.5 8.5,0C5.1,4.5 -5.1,4.5 -8.5,0Z" fill="#FEFDFA" stroke="#968C7B" stroke-width="1.0" stroke-opacity="0.85"/>
<path transform="translate(990.5 711.2) rotate(96)" d="M-8.5,0C-5.1,-4.5 5.1,-4.5 8.5,0C5.1,4.5 -5.1,4.5 -8.5,0Z" fill="#FEFDFA" stroke="#968C7B" stroke-width="1.0" stroke-opacity="0.85"/>
<path transform="translate(969.2 731) rotate(118)" d="M-8.5,0C-5.1,-4.5 5.1,-4.5 8.5,0C5.1,4.5 -5.1,4.5 -8.5,0Z" fill="#FEFDFA" stroke="#968C7B" stroke-width="1.0" stroke-opacity="0.85"/>
<path transform="translate(948 744) rotate(117)" d="M-8.5,0C-5.1,-4.5 5.1,-4.5 8.5,0C5.1,4.5 -5.1,4.5 -8.5,0Z" fill="#FEFDFA" stroke="#968C7B" stroke-width="1.0" stroke-opacity="0.85"/>
<path transform="translate(930 754.6) rotate(166)" d="M-8.5,0C-5.1,-4.5 5.1,-4.5 8.5,0C5.1,4.5 -5.1,4.5 -8.5,0Z" fill="#FEFDFA" stroke="#968C7B" stroke-width="1.0" stroke-opacity="0.85"/>
<path transform="translate(905.9 763) rotate(170)" d="M-8.5,0C-5.1,-4.5 5.1,-4.5 8.5,0C5.1,4.5 -5.1,4.5 -8.5,0Z" fill="#FEFDFA" stroke="#968C7B" stroke-width="1.0" stroke-opacity="0.85"/>
<path transform="translate(875.6 770.5) rotate(204)" d="M-8.5,0C-5.1,-4.5 5.1,-4.5 8.5,0C5.1,4.5 -5.1,4.5 -8.5,0Z" fill="#FEFDFA" stroke="#968C7B" stroke-width="1.0" stroke-opacity="0.85"/>
<path transform="translate(848.2 773.5) rotate(-122)" d="M-8.5,0C-5.1,-4.5 5.1,-4.5 8.5,0C5.1,4.5 -5.1,4.5 -8.5,0Z" fill="#FEFDFA" stroke="#968C7B" stroke-width="1.0" stroke-opacity="0.85"/>
<path transform="translate(828.5 756.9) rotate(-96)" d="M-8.5,0C-5.1,-4.5 5.1,-4.5 8.5,0C5.1,4.5 -5.1,4.5 -8.5,0Z" fill="#FEFDFA" stroke="#968C7B" stroke-width="1.0" stroke-opacity="0.85"/>
<path transform="translate(819.5 731) rotate(-101)" d="M-8.5,0C-5.1,-4.5 5.1,-4.5 8.5,0C5.1,4.5 -5.1,4.5 -8.5,0Z" fill="#FEFDFA" stroke="#968C7B" stroke-width="1.0" stroke-opacity="0.85"/>
<path transform="translate(816.5 709.7) rotate(-138)" d="M-8.5,0C-5.1,-4.5 5.1,-4.5 8.5,0C5.1,4.5 -5.1,4.5 -8.5,0Z" fill="#FEFDFA" stroke="#968C7B" stroke-width="1.0" stroke-opacity="0.85"/>
<path transform="translate(815.8 687) rotate(-122)" d="M-8.5,0C-5.1,-4.5 5.1,-4.5 8.5,0C5.1,4.5 -5.1,4.5 -8.5,0Z" fill="#FEFDFA" stroke="#968C7B" stroke-width="1.0" stroke-opacity="0.85"/>
<path transform="translate(817.2 663) rotate(-53)" d="M-8.5,0C-5.1,-4.5 5.1,-4.5 8.5,0C5.1,4.5 -5.1,4.5 -8.5,0Z" fill="#FEFDFA" stroke="#968C7B" stroke-width="1.0" stroke-opacity="0.85"/>
<path transform="translate(817.6 639.6) rotate(-122)" d="M-8.5,0C-5.1,-4.5 5.1,-4.5 8.5,0C5.1,4.5 -5.1,4.5 -8.5,0Z" fill="#FEFDFA" stroke="#968C7B" stroke-width="1.0" stroke-opacity="0.85"/>
<path transform="translate(817 617) rotate(-80)" d="M-8.5,0C-5.1,-4.5 5.1,-4.5 8.5,0C5.1,4.5 -5.1,4.5 -8.5,0Z" fill="#FEFDFA" stroke="#968C7B" stroke-width="1.0" stroke-opacity="0.85"/>
<path transform="translate(818.8 590.3) rotate(-33)" d="M-8.5,0C-5.1,-4.5 5.1,-4.5 8.5,0C5.1,4.5 -5.1,4.5 -8.5,0Z" fill="#FEFDFA" stroke="#968C7B" stroke-width="1.0" stroke-opacity="0.85"/>
<path transform="translate(824.9 565.4) rotate(-45)" d="M-8.5,0C-5.1,-4.5 5.1,-4.5 8.5,0C5.1,4.5 -5.1,4.5 -8.5,0Z" fill="#FEFDFA" stroke="#968C7B" stroke-width="1.0" stroke-opacity="0.85"/>
</g>
<g stroke="#151515" stroke-width="2.6" stroke-linecap="round">
  <line x1="454" y1="531" x2="507" y2="531"/>
  <line x1="1044" y1="404.5" x2="1155" y2="404.5"/>
  <line x1="1033" y1="678" x2="1155" y2="678"/>
</g>
<text id="p50" class="b" x="274.95" y="481.5" font-size="84.5" fill="#4C7F35" textLength="157.55" lengthAdjust="spacingAndGlyphs">50%</text>
<text id="l12" class="t" x="365.06" y="531.2" font-size="41.2" fill="#141414" stroke="#141414" stroke-width="1.1" textLength="68.06" lengthAdjust="spacingAndGlyphs">1/2:</text>
<text id="lveg" class="t" x="264.01" y="577.2" font-size="41.2" fill="#141414" stroke="#141414" stroke-width="1.1" textLength="167.78" lengthAdjust="spacingAndGlyphs">vegetais</text>
<text id="p25r" class="b" x="1172.97" y="365" font-size="85.5" fill="#CD4B3D" textLength="149.55" lengthAdjust="spacingAndGlyphs">25%</text>
<text id="l14a" class="t" x="1173.89" y="415.7" font-size="41.2" fill="#141414" stroke="#141414" stroke-width="1.1" textLength="70.24" lengthAdjust="spacingAndGlyphs">1/4:</text>
<text id="lprot" class="t" x="1250.42" y="415.7" font-size="41.2" fill="#141414" stroke="#141414" stroke-width="1.1" textLength="188.09" lengthAdjust="spacingAndGlyphs">proteínas</text>
<text id="p25b" class="b" x="1167.96" y="670" font-size="85" fill="#4F8097" textLength="151.03" lengthAdjust="spacingAndGlyphs">25%</text>
<text id="l14b" class="t" x="1174.95" y="718.7" font-size="41.2" fill="#141414" stroke="#141414" stroke-width="1.1" textLength="69.13" lengthAdjust="spacingAndGlyphs">1/4:</text>
<text id="lcarb" class="t" x="1252.47" y="718.7" font-size="41.2" fill="#141414" stroke="#141414" stroke-width="1.1" textLength="249.54" lengthAdjust="spacingAndGlyphs">carboidratos</text>
<path d="M1535,797 C1542.0,812.2 1549.0,819.9 1563,827.5 C1549.0,834.9 1542.0,842.2 1535,857 C1528.0,842.2 1521.0,834.9 1507,827.5 C1521.0,819.9 1528.0,812.2 1535,797 Z" fill="#FEF3EC" opacity="0.9"/>
</svg>
</body>
</html>
